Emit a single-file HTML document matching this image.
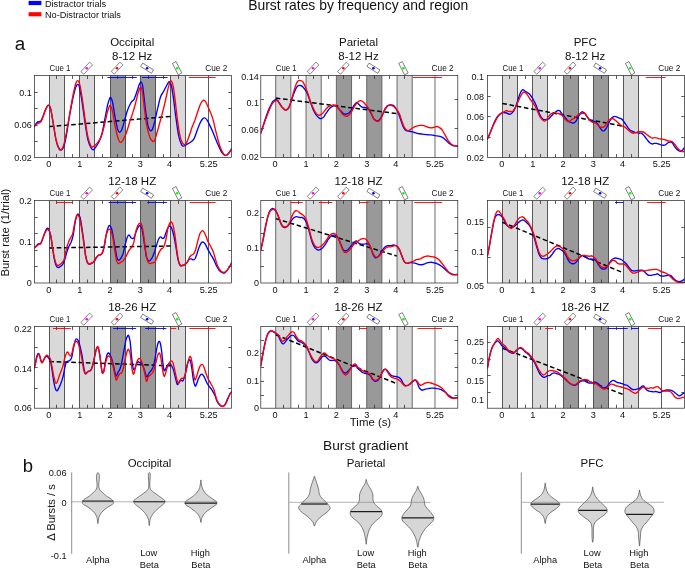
<!DOCTYPE html><html><head><meta charset="utf-8"><style>html,body{margin:0;padding:0;background:#fff;width:685px;height:568px;overflow:hidden}</style></head><body><svg width="685" height="568" viewBox="0 0 685 568" style="position:absolute;left:0;top:0;font-family:'Liberation Sans',sans-serif">
<rect width="685" height="568" fill="#fff"/>
<rect x="28.6" y="0.9" width="12.8" height="4.2" fill="#0000ff"/>
<rect x="28.6" y="12.2" width="12.8" height="4.1" fill="#ff0000"/>
<rect x="49.50" y="75.5" width="15.00" height="82.0" fill="#d9d9d9"/>
<rect x="79.50" y="75.5" width="15.00" height="82.0" fill="#d9d9d9"/>
<rect x="110.50" y="75.5" width="15.00" height="82.0" fill="#999999"/>
<rect x="140.50" y="75.5" width="15.00" height="82.0" fill="#999999"/>
<rect x="170.50" y="75.5" width="15.00" height="82.0" fill="#d9d9d9"/>
<line x1="49.5" x2="49.5" y1="75.5" y2="157.5" stroke="#3c3c3c" stroke-width="0.85"/>
<line x1="64.5" x2="64.5" y1="75.5" y2="157.5" stroke="#3c3c3c" stroke-width="0.85"/>
<line x1="79.5" x2="79.5" y1="75.5" y2="157.5" stroke="#3c3c3c" stroke-width="0.85"/>
<line x1="94.5" x2="94.5" y1="75.5" y2="157.5" stroke="#3c3c3c" stroke-width="0.85"/>
<line x1="110.5" x2="110.5" y1="75.5" y2="157.5" stroke="#3c3c3c" stroke-width="0.85"/>
<line x1="125.5" x2="125.5" y1="75.5" y2="157.5" stroke="#3c3c3c" stroke-width="0.85"/>
<line x1="140.5" x2="140.5" y1="75.5" y2="157.5" stroke="#3c3c3c" stroke-width="0.85"/>
<line x1="155.5" x2="155.5" y1="75.5" y2="157.5" stroke="#3c3c3c" stroke-width="0.85"/>
<line x1="170.5" x2="170.5" y1="75.5" y2="157.5" stroke="#3c3c3c" stroke-width="0.85"/>
<line x1="185.5" x2="185.5" y1="75.5" y2="157.5" stroke="#3c3c3c" stroke-width="0.85"/>
<line x1="208.5" x2="208.5" y1="75.5" y2="157.5" stroke="#3c3c3c" stroke-width="0.85"/>
<path d="M56.50 157.5v-3.5M56.50 75.5v3.5M72.50 157.5v-3.5M72.50 75.5v3.5M87.50 157.5v-3.5M87.50 75.5v3.5M102.50 157.5v-3.5M102.50 75.5v3.5M117.50 157.5v-3.5M117.50 75.5v3.5M132.50 157.5v-3.5M132.50 75.5v3.5M148.50 157.5v-3.5M148.50 75.5v3.5M163.50 157.5v-3.5M163.50 75.5v3.5M178.50 157.5v-3.5M178.50 75.5v3.5M34.5 92.5h3.2M231.5 92.5h-3.2M34.5 108.5h3.2M231.5 108.5h-3.2M34.5 125.5h3.2M231.5 125.5h-3.2M34.5 141.5h3.2M231.5 141.5h-3.2" stroke="#333" stroke-width="0.8" fill="none"/>
<line x1="49.4" y1="126.6" x2="170.7" y2="116.4" stroke="#000" stroke-width="1.5" stroke-dasharray="4.6 2.7"/>
<path d="M34.0 127.3C34.5 126.5 35.8 123.6 36.9 122.5C38.0 121.5 39.6 122.0 40.6 121.1C41.6 120.1 41.9 118.6 42.8 116.7C43.6 114.7 44.8 111.3 45.7 109.4C46.6 107.4 47.5 105.4 48.3 105.1C49.1 104.9 49.6 105.1 50.4 107.9C51.2 110.7 52.1 116.5 53.0 121.8C53.9 127.0 55.0 134.9 55.9 139.3C56.9 143.7 57.9 146.3 58.9 148.1C59.8 149.9 60.6 150.2 61.5 149.9C62.3 149.5 63.2 148.1 64.0 145.9C64.8 143.7 65.2 141.6 66.2 136.4C67.1 131.2 68.6 121.1 69.8 114.5C71.0 107.9 72.2 101.4 73.2 96.9C74.2 92.4 75.0 89.5 75.7 87.4C76.4 85.4 76.8 84.6 77.4 84.5C78.0 84.4 78.6 83.9 79.3 86.7C80.1 89.5 81.0 95.5 82.0 101.3C82.9 107.2 83.9 115.4 84.9 121.8C85.9 128.1 86.8 135.0 87.8 139.3C88.8 143.7 90.1 146.1 91.0 147.8C91.9 149.6 92.4 150.0 93.2 149.9C94.1 149.7 95.2 148.0 96.1 146.6C97.1 145.2 98.1 143.7 99.1 141.5C100.0 139.3 101.0 137.3 102.0 133.5C103.0 129.7 103.9 123.7 104.9 118.9C105.9 114.0 107.0 107.7 107.8 104.2C108.6 100.8 109.2 99.5 109.7 98.4C110.2 97.3 110.3 97.1 110.8 97.7C111.2 98.3 111.8 98.8 112.5 102.0C113.2 105.3 114.3 112.9 115.1 117.4C116.0 121.9 116.9 126.6 117.6 129.1C118.4 131.6 118.8 132.2 119.5 132.3C120.2 132.4 120.9 131.8 121.7 129.8C122.6 127.8 123.7 123.6 124.6 120.3C125.6 117.0 126.6 112.9 127.6 110.1C128.5 107.3 129.7 105.0 130.5 103.5C131.3 102.0 131.6 101.8 132.2 101.0C132.9 100.3 133.4 100.8 134.2 99.1C135.0 97.5 136.2 93.6 137.1 91.1C138.0 88.5 138.9 85.3 139.6 83.8C140.3 82.3 140.6 81.8 141.1 82.0C141.6 82.3 142.0 82.7 142.5 85.2C143.0 87.7 143.4 92.3 144.0 96.9C144.5 101.6 145.2 108.1 145.9 113.0C146.6 117.9 147.4 123.2 148.1 126.2C148.8 129.1 149.5 130.1 150.3 130.6C151.0 131.0 151.7 130.6 152.5 129.1C153.2 127.6 153.8 125.2 154.7 121.8C155.5 118.4 156.6 112.8 157.6 108.6C158.6 104.5 159.5 99.7 160.5 96.9C161.5 94.1 162.5 93.6 163.4 91.8C164.4 90.0 165.5 87.5 166.4 86.0C167.2 84.4 168.0 83.0 168.5 82.3C169.1 81.7 169.2 81.4 169.7 82.0C170.2 82.6 170.8 83.0 171.5 86.0C172.1 88.9 172.9 94.6 173.7 99.9C174.4 105.1 175.0 111.3 175.9 117.4C176.7 123.5 177.8 131.8 178.8 136.4C179.8 141.0 180.9 143.3 181.7 144.9C182.6 146.5 183.0 146.1 183.9 146.1C184.8 146.0 185.7 145.1 186.8 144.4C187.9 143.8 189.3 143.2 190.5 142.3C191.7 141.3 193.0 140.5 194.1 138.6C195.2 136.6 196.1 133.1 197.1 130.6C198.0 128.0 199.0 125.2 200.0 123.2C201.0 121.2 202.1 119.4 202.9 118.6C203.8 117.7 204.4 117.7 205.1 118.0C205.8 118.3 206.3 118.7 207.3 120.3C208.3 121.9 209.7 125.0 210.9 127.6C212.2 130.3 213.4 133.5 214.6 136.4C215.8 139.3 217.0 142.5 218.3 145.2C219.5 147.9 220.7 150.8 221.9 152.5C223.1 154.2 224.5 155.3 225.6 155.4C226.7 155.5 227.4 154.4 228.5 153.2C229.6 152.0 231.4 149.0 232.0 148.1" stroke="#0000ff" stroke-width="1.35" fill="none" stroke-linejoin="round" stroke-linecap="round" clip-path="url(#cp00)"/>
<path d="M34.0 126.5C34.5 126.0 35.8 124.7 36.9 124.0C38.0 123.2 39.6 123.2 40.6 122.1C41.6 121.0 41.9 119.5 42.8 117.4C43.6 115.3 44.8 111.4 45.7 109.4C46.6 107.4 47.5 105.7 48.3 105.4C49.1 105.2 49.6 105.2 50.4 107.9C51.2 110.6 52.1 116.5 53.0 121.8C53.9 127.0 55.0 134.8 55.9 139.3C56.9 143.8 58.0 147.1 58.9 148.8C59.7 150.6 60.0 150.2 60.8 149.9C61.5 149.5 62.5 148.6 63.2 146.6C64.0 144.6 64.5 142.7 65.4 137.9C66.4 133.0 67.9 124.2 69.1 117.4C70.3 110.6 71.6 102.5 72.7 96.9C73.8 91.3 74.9 86.5 75.7 83.8C76.5 81.0 76.9 80.6 77.6 80.6C78.2 80.6 78.8 80.8 79.6 83.8C80.4 86.7 81.3 92.3 82.2 98.4C83.2 104.5 84.2 113.7 85.2 120.3C86.1 126.9 87.1 133.5 88.1 137.9C89.1 142.2 90.3 144.8 91.0 146.3C91.7 147.9 91.7 147.2 92.5 146.9C93.2 146.7 94.4 145.8 95.4 144.9C96.4 144.0 97.4 142.9 98.3 141.5C99.3 140.1 100.3 139.0 101.3 136.4C102.2 133.8 103.2 130.1 104.2 126.2C105.2 122.3 106.2 116.3 107.1 113.0C108.0 109.7 108.8 107.7 109.3 106.4C109.8 105.2 109.8 105.1 110.3 105.7C110.8 106.3 111.4 106.7 112.2 110.1C113.0 113.5 114.2 121.4 115.1 126.2C116.1 130.9 117.2 135.9 118.1 138.6C118.9 141.3 119.5 141.9 120.3 142.3C121.0 142.6 121.5 142.3 122.5 140.8C123.4 139.3 124.9 136.6 126.1 133.5C127.3 130.3 128.8 124.8 129.8 121.8C130.7 118.7 131.1 117.9 132.0 115.2C132.8 112.5 133.9 109.2 134.9 105.7C135.9 102.2 137.0 97.0 137.8 94.0C138.7 91.0 139.5 89.0 140.0 87.9C140.6 86.8 140.7 86.6 141.1 87.4C141.5 88.2 142.0 89.0 142.5 92.5C143.1 96.1 143.7 103.3 144.4 108.6C145.1 114.0 145.8 120.1 146.6 124.7C147.5 129.3 148.6 133.7 149.5 136.4C150.5 139.1 151.6 140.5 152.5 141.1C153.3 141.7 153.8 141.8 154.7 140.1C155.5 138.3 156.5 134.3 157.6 130.6C158.7 126.8 160.0 122.0 161.2 117.4C162.5 112.8 163.8 107.4 164.9 102.8C166.0 98.1 167.0 93.0 167.8 89.6C168.7 86.2 169.4 83.7 170.0 82.3C170.6 80.9 170.9 80.5 171.5 81.1C172.0 81.7 172.6 82.8 173.2 86.0C173.8 89.1 174.4 94.4 175.1 99.9C175.8 105.3 176.6 113.3 177.3 118.9C178.1 124.5 178.8 129.7 179.5 133.5C180.2 137.3 181.0 139.7 181.7 141.5C182.4 143.3 183.2 144.1 183.9 144.4C184.6 144.8 185.2 145.1 186.1 143.7C186.9 142.4 188.0 139.1 189.0 136.4C190.0 133.7 191.0 130.3 191.9 127.6C192.9 125.0 193.9 123.0 194.9 120.3C195.8 117.6 196.8 114.4 197.8 111.5C198.8 108.7 199.7 105.4 200.7 103.5C201.7 101.6 202.8 100.4 203.6 100.1C204.5 99.9 205.0 100.6 205.8 102.0C206.7 103.5 207.7 106.1 208.8 108.6C209.9 111.2 211.3 114.0 212.4 117.4C213.5 120.8 214.4 125.2 215.3 129.1C216.3 133.0 217.3 137.4 218.3 140.8C219.2 144.2 220.2 147.2 221.2 149.6C222.2 151.9 223.3 153.7 224.1 154.7C225.0 155.7 225.6 155.5 226.3 155.4C227.0 155.3 227.5 155.0 228.5 153.9C229.4 152.9 231.4 149.7 232.0 148.8" stroke="#ff0000" stroke-width="1.35" fill="none" stroke-linejoin="round" stroke-linecap="round" clip-path="url(#cp00)"/>
<line x1="107.4" x2="136.8" y1="77.5" y2="77.5" stroke="#0000ff" stroke-width="0.9"/>
<line x1="141.9" x2="167.6" y1="77.5" y2="77.5" stroke="#0000ff" stroke-width="0.9"/>
<line x1="188.8" x2="215.7" y1="77.5" y2="77.5" stroke="#ff0000" stroke-width="0.9"/>
<clipPath id="cp00"><rect x="34.5" y="75.5" width="197.0" height="82.0"/></clipPath>
<rect x="34.5" y="75.5" width="197.0" height="82.0" fill="none" stroke="#222" stroke-width="0.7"/>
<g transform="translate(86.72 68.20) rotate(-47)"><rect x="-6.4" y="-2.0" width="12.8" height="4.0" fill="#fff" stroke="#333" stroke-width="0.55"/></g><circle cx="86.72" cy="68.20" r="1.3" fill="#ff00ff"/>
<g transform="translate(117.06 68.20) rotate(-47)"><rect x="-6.4" y="-2.0" width="12.8" height="4.0" fill="#fff" stroke="#333" stroke-width="0.55"/></g><circle cx="117.06" cy="68.20" r="1.3" fill="#ff0000"/>
<g transform="translate(147.09 68.20) rotate(32)"><rect x="-6.4" y="-2.0" width="12.8" height="4.0" fill="#fff" stroke="#333" stroke-width="0.55"/></g><circle cx="147.09" cy="68.20" r="1.3" fill="#0000ff"/>
<g transform="translate(177.13 68.20) rotate(63)"><rect x="-6.4" y="-2.0" width="12.8" height="4.0" fill="#fff" stroke="#333" stroke-width="0.55"/></g><circle cx="177.13" cy="68.20" r="1.3" fill="#00ff00"/>
<rect x="275.70" y="75.5" width="15.17" height="82.0" fill="#d9d9d9"/>
<rect x="306.04" y="75.5" width="15.17" height="82.0" fill="#d9d9d9"/>
<rect x="336.38" y="75.5" width="15.17" height="82.0" fill="#999999"/>
<rect x="366.72" y="75.5" width="15.17" height="82.0" fill="#999999"/>
<rect x="397.06" y="75.5" width="15.17" height="82.0" fill="#d9d9d9"/>
<line x1="275.70" x2="275.70" y1="75.5" y2="157.5" stroke="#5a5a5a" stroke-width="0.9"/>
<line x1="290.87" x2="290.87" y1="75.5" y2="157.5" stroke="#5a5a5a" stroke-width="0.9"/>
<line x1="306.04" x2="306.04" y1="75.5" y2="157.5" stroke="#5a5a5a" stroke-width="0.9"/>
<line x1="321.21" x2="321.21" y1="75.5" y2="157.5" stroke="#5a5a5a" stroke-width="0.9"/>
<line x1="336.38" x2="336.38" y1="75.5" y2="157.5" stroke="#5a5a5a" stroke-width="0.9"/>
<line x1="351.55" x2="351.55" y1="75.5" y2="157.5" stroke="#5a5a5a" stroke-width="0.9"/>
<line x1="366.72" x2="366.72" y1="75.5" y2="157.5" stroke="#5a5a5a" stroke-width="0.9"/>
<line x1="381.89" x2="381.89" y1="75.5" y2="157.5" stroke="#5a5a5a" stroke-width="0.9"/>
<line x1="397.06" x2="397.06" y1="75.5" y2="157.5" stroke="#5a5a5a" stroke-width="0.9"/>
<line x1="412.23" x2="412.23" y1="75.5" y2="157.5" stroke="#5a5a5a" stroke-width="0.9"/>
<line x1="434.99" x2="434.99" y1="75.5" y2="157.5" stroke="#5a5a5a" stroke-width="0.9"/>
<path d="M283.50 157.5v-3.5M283.50 75.5v3.5M298.50 157.5v-3.5M298.50 75.5v3.5M313.50 157.5v-3.5M313.50 75.5v3.5M328.50 157.5v-3.5M328.50 75.5v3.5M343.50 157.5v-3.5M343.50 75.5v3.5M359.50 157.5v-3.5M359.50 75.5v3.5M374.50 157.5v-3.5M374.50 75.5v3.5M389.50 157.5v-3.5M389.50 75.5v3.5M404.50 157.5v-3.5M404.50 75.5v3.5M260.8 99.5h3.2M457.8 99.5h-3.2M260.8 128.5h3.2M457.8 128.5h-3.2" stroke="#333" stroke-width="0.8" fill="none"/>
<line x1="275.8" y1="98.1" x2="397.5" y2="113.7" stroke="#000" stroke-width="1.5" stroke-dasharray="4.6 2.7"/>
<path d="M260.7 133.5C261.2 131.9 262.7 127.0 263.7 124.0C264.6 120.9 265.6 117.9 266.6 115.2C267.6 112.5 268.5 110.1 269.5 107.9C270.5 105.7 271.5 103.4 272.4 102.0C273.4 100.7 274.5 99.9 275.4 99.6C276.2 99.2 276.6 99.7 277.3 100.1C277.9 100.6 278.2 101.4 279.0 102.5C279.8 103.6 281.0 105.7 281.9 106.9C282.9 108.1 284.0 109.3 284.9 109.8C285.7 110.3 286.3 110.3 287.0 109.8C287.8 109.3 288.5 108.4 289.2 106.9C290.0 105.3 290.7 102.9 291.4 100.6C292.2 98.3 293.1 95.4 293.9 93.3C294.7 91.2 295.5 89.1 296.3 87.9C297.0 86.6 297.6 86.1 298.3 85.7C299.0 85.3 299.9 85.4 300.6 85.5C301.4 85.7 302.0 86.0 302.7 86.7C303.4 87.4 304.2 88.4 305.0 89.6C305.8 90.8 306.6 91.9 307.5 94.0C308.4 96.1 309.5 99.4 310.4 102.0C311.4 104.7 312.4 107.9 313.4 110.1C314.3 112.3 315.3 113.9 316.3 115.2C317.3 116.5 318.4 117.6 319.2 118.1C320.1 118.7 320.7 118.7 321.4 118.6C322.1 118.4 322.7 118.1 323.6 117.1C324.4 116.1 325.5 114.1 326.5 112.7C327.5 111.3 328.5 109.7 329.4 108.6C330.4 107.6 331.5 106.9 332.4 106.4C333.2 105.9 333.8 105.6 334.6 105.7C335.4 105.8 336.3 106.1 337.2 106.9C338.1 107.6 339.1 109.0 340.1 110.1C341.1 111.2 342.1 112.6 343.0 113.3C343.9 114.0 344.6 114.2 345.5 114.2C346.4 114.2 347.5 114.0 348.5 113.3C349.4 112.6 350.4 111.5 351.4 110.1C352.3 108.7 353.4 106.2 354.3 105.0C355.2 103.7 356.2 102.7 356.8 102.5C357.4 102.2 357.4 103.0 358.0 103.5C358.6 104.0 359.5 105.1 360.2 105.7C360.9 106.3 361.5 106.9 362.4 107.2C363.2 107.5 364.3 107.2 365.3 107.5C366.3 107.7 367.3 107.9 368.2 108.9C369.2 110.0 370.2 112.1 371.2 113.7C372.1 115.4 372.9 117.7 373.8 118.9C374.6 120.0 375.5 120.3 376.3 120.6C377.1 120.9 377.7 121.0 378.5 120.6C379.2 120.2 379.9 119.3 380.7 118.1C381.4 117.0 382.1 115.3 382.9 113.7C383.6 112.2 384.3 110.2 385.0 108.9C385.8 107.6 386.5 106.7 387.2 106.0C388.0 105.3 388.7 105.1 389.4 105.0C390.2 104.8 391.1 104.7 391.9 105.0C392.8 105.2 393.7 105.5 394.5 106.4C395.4 107.4 396.3 109.1 397.2 110.8C398.0 112.5 398.9 114.6 399.7 116.7C400.4 118.7 401.1 121.3 401.9 123.2C402.6 125.2 403.3 127.1 404.1 128.4C404.8 129.6 405.4 130.1 406.2 130.6C407.1 131.0 408.2 131.1 409.2 131.3C410.1 131.5 411.1 131.5 412.1 131.7C413.1 132.0 414.0 132.5 415.0 132.7C416.0 133.0 416.7 133.2 417.9 133.5C419.2 133.7 420.9 134.0 422.3 134.2C423.8 134.4 425.3 134.5 426.7 134.6C428.2 134.8 429.6 134.8 431.1 134.9C432.6 135.1 434.0 135.4 435.5 135.7C436.9 135.9 438.7 136.1 439.9 136.4C441.1 136.7 441.8 137.0 442.8 137.6C443.8 138.2 444.7 139.2 445.7 140.1C446.7 141.0 447.7 142.2 448.6 143.0C449.6 143.8 450.6 144.4 451.6 144.9C452.5 145.4 453.4 145.7 454.5 145.9C455.6 146.2 457.4 146.3 458.0 146.3" stroke="#0000ff" stroke-width="1.35" fill="none" stroke-linejoin="round" stroke-linecap="round" clip-path="url(#cp01)"/>
<path d="M260.7 132.7C261.2 131.4 262.7 127.4 263.7 124.7C264.6 122.0 265.6 119.2 266.6 116.7C267.6 114.1 268.5 111.5 269.5 109.4C270.5 107.2 271.5 104.9 272.4 103.5C273.4 102.1 274.5 101.5 275.4 101.0C276.2 100.5 276.6 100.3 277.3 100.6C277.9 100.9 278.2 101.7 279.0 102.8C279.8 103.9 281.0 106.0 281.9 107.2C282.9 108.3 284.0 109.4 284.9 109.8C285.7 110.2 286.3 109.9 287.0 109.4C287.8 108.8 288.5 108.0 289.2 106.4C290.0 104.8 290.7 102.4 291.4 99.9C292.2 97.3 293.1 93.8 293.9 91.1C294.7 88.4 295.5 85.5 296.3 83.8C297.0 82.1 297.6 81.4 298.3 80.8C299.0 80.3 299.9 80.4 300.6 80.6C301.4 80.7 302.0 80.7 302.7 81.6C303.4 82.5 304.2 84.1 305.0 86.0C305.8 87.8 306.6 90.0 307.5 92.5C308.4 95.1 309.5 98.6 310.4 101.3C311.4 104.0 312.4 106.6 313.4 108.6C314.3 110.7 315.4 112.6 316.3 113.7C317.1 114.8 317.7 115.0 318.5 115.2C319.2 115.4 319.9 115.1 320.7 114.8C321.4 114.4 322.0 113.9 322.9 113.0C323.7 112.1 324.8 110.5 325.8 109.4C326.8 108.3 327.7 107.1 328.7 106.4C329.7 105.8 330.7 105.5 331.6 105.3C332.6 105.0 333.4 104.8 334.3 105.0C335.1 105.2 335.9 105.6 336.8 106.4C337.7 107.3 338.7 108.8 339.7 110.1C340.7 111.4 341.6 113.2 342.6 114.2C343.6 115.2 344.7 115.9 345.5 116.2C346.4 116.5 346.9 116.4 347.7 115.9C348.6 115.4 349.7 114.6 350.6 113.3C351.6 112.0 352.6 109.5 353.6 107.9C354.5 106.3 355.8 104.5 356.5 103.5C357.2 102.5 357.4 102.5 358.0 102.0C358.6 101.6 359.5 100.7 360.2 100.6C360.9 100.5 361.5 100.7 362.4 101.3C363.2 101.9 364.3 103.1 365.3 104.2C366.3 105.3 367.3 106.4 368.2 107.9C369.2 109.4 370.2 111.2 371.2 113.0C372.1 114.8 372.9 117.5 373.8 118.9C374.6 120.2 375.5 120.6 376.3 121.1C377.1 121.5 377.7 121.9 378.5 121.5C379.2 121.1 379.9 120.1 380.7 118.9C381.4 117.6 382.1 115.8 382.9 114.2C383.6 112.6 384.3 110.6 385.0 109.4C385.8 108.1 386.5 107.1 387.2 106.4C388.0 105.8 388.7 105.5 389.4 105.4C390.2 105.3 391.1 105.4 391.9 105.7C392.8 106.0 393.7 106.4 394.5 107.2C395.4 107.9 396.3 108.9 397.2 110.1C398.0 111.3 398.9 112.6 399.7 114.5C400.4 116.3 401.1 119.0 401.9 121.1C402.6 123.1 403.3 125.4 404.1 126.9C404.8 128.4 405.5 129.2 406.2 129.8C407.0 130.4 407.7 130.6 408.4 130.6C409.2 130.5 409.8 129.9 410.6 129.4C411.5 128.8 412.6 127.9 413.6 127.3C414.5 126.8 415.5 126.5 416.5 126.2C417.5 125.9 418.4 125.6 419.4 125.4C420.4 125.3 421.4 125.3 422.3 125.4C423.3 125.6 424.3 125.9 425.3 126.2C426.2 126.5 427.2 127.0 428.2 127.3C429.2 127.6 430.1 127.9 431.1 127.9C432.1 127.9 433.0 127.6 434.0 127.3C435.0 127.1 436.1 126.5 436.9 126.5C437.8 126.5 438.3 126.8 439.1 127.3C440.0 127.9 441.1 128.6 442.1 129.8C443.0 131.1 444.0 133.2 445.0 134.9C446.0 136.6 446.9 138.6 447.9 140.1C448.9 141.5 449.9 142.8 450.8 143.7C451.8 144.6 452.6 145.2 453.8 145.6C455.0 146.0 457.3 145.9 458.0 145.9" stroke="#ff0000" stroke-width="1.35" fill="none" stroke-linejoin="round" stroke-linecap="round" clip-path="url(#cp01)"/>
<line x1="412.8" x2="442.1" y1="77.5" y2="77.5" stroke="#ff0000" stroke-width="0.9"/>
<clipPath id="cp01"><rect x="260.8" y="75.5" width="197.0" height="82.0"/></clipPath>
<rect x="260.8" y="75.5" width="197.0" height="82.0" fill="none" stroke="#222" stroke-width="0.7"/>
<g transform="translate(313.02 68.20) rotate(-47)"><rect x="-6.4" y="-2.0" width="12.8" height="4.0" fill="#fff" stroke="#333" stroke-width="0.55"/></g><circle cx="313.02" cy="68.20" r="1.3" fill="#ff00ff"/>
<g transform="translate(343.36 68.20) rotate(-47)"><rect x="-6.4" y="-2.0" width="12.8" height="4.0" fill="#fff" stroke="#333" stroke-width="0.55"/></g><circle cx="343.36" cy="68.20" r="1.3" fill="#ff0000"/>
<g transform="translate(373.39 68.20) rotate(32)"><rect x="-6.4" y="-2.0" width="12.8" height="4.0" fill="#fff" stroke="#333" stroke-width="0.55"/></g><circle cx="373.39" cy="68.20" r="1.3" fill="#0000ff"/>
<g transform="translate(403.43 68.20) rotate(63)"><rect x="-6.4" y="-2.0" width="12.8" height="4.0" fill="#fff" stroke="#333" stroke-width="0.55"/></g><circle cx="403.43" cy="68.20" r="1.3" fill="#00ff00"/>
<rect x="502.50" y="75.5" width="15.00" height="82.0" fill="#d9d9d9"/>
<rect x="532.50" y="75.5" width="15.00" height="82.0" fill="#d9d9d9"/>
<rect x="563.50" y="75.5" width="15.00" height="82.0" fill="#999999"/>
<rect x="593.50" y="75.5" width="15.00" height="82.0" fill="#999999"/>
<rect x="623.50" y="75.5" width="15.00" height="82.0" fill="#d9d9d9"/>
<line x1="502.5" x2="502.5" y1="75.5" y2="157.5" stroke="#3c3c3c" stroke-width="0.85"/>
<line x1="517.5" x2="517.5" y1="75.5" y2="157.5" stroke="#3c3c3c" stroke-width="0.85"/>
<line x1="532.5" x2="532.5" y1="75.5" y2="157.5" stroke="#3c3c3c" stroke-width="0.85"/>
<line x1="547.5" x2="547.5" y1="75.5" y2="157.5" stroke="#3c3c3c" stroke-width="0.85"/>
<line x1="563.5" x2="563.5" y1="75.5" y2="157.5" stroke="#3c3c3c" stroke-width="0.85"/>
<line x1="578.5" x2="578.5" y1="75.5" y2="157.5" stroke="#3c3c3c" stroke-width="0.85"/>
<line x1="593.5" x2="593.5" y1="75.5" y2="157.5" stroke="#3c3c3c" stroke-width="0.85"/>
<line x1="608.5" x2="608.5" y1="75.5" y2="157.5" stroke="#3c3c3c" stroke-width="0.85"/>
<line x1="623.5" x2="623.5" y1="75.5" y2="157.5" stroke="#3c3c3c" stroke-width="0.85"/>
<line x1="638.5" x2="638.5" y1="75.5" y2="157.5" stroke="#3c3c3c" stroke-width="0.85"/>
<line x1="661.5" x2="661.5" y1="75.5" y2="157.5" stroke="#3c3c3c" stroke-width="0.85"/>
<path d="M509.50 157.5v-3.5M509.50 75.5v3.5M525.50 157.5v-3.5M525.50 75.5v3.5M540.50 157.5v-3.5M540.50 75.5v3.5M555.50 157.5v-3.5M555.50 75.5v3.5M570.50 157.5v-3.5M570.50 75.5v3.5M585.50 157.5v-3.5M585.50 75.5v3.5M601.50 157.5v-3.5M601.50 75.5v3.5M616.50 157.5v-3.5M616.50 75.5v3.5M631.50 157.5v-3.5M631.50 75.5v3.5M487.5 96.5h3.2M684.5 96.5h-3.2M487.5 116.5h3.2M684.5 116.5h-3.2M487.5 137.5h3.2M684.5 137.5h-3.2" stroke="#333" stroke-width="0.8" fill="none"/>
<line x1="502.35" y1="103.5" x2="623.3" y2="126.2" stroke="#000" stroke-width="1.5" stroke-dasharray="4.6 2.7"/>
<path d="M487.4 139.3C487.7 138.6 488.5 136.9 489.2 135.2C489.9 133.6 490.7 131.3 491.4 129.4C492.1 127.5 492.8 125.7 493.6 124.0C494.3 122.3 495.0 120.6 495.8 119.3C496.5 118.0 497.2 116.9 498.0 115.9C498.7 115.0 499.4 114.3 500.2 113.7C500.9 113.2 501.6 112.9 502.4 112.7C503.1 112.5 503.8 112.7 504.5 112.7C505.3 112.8 506.0 112.8 506.7 113.0C507.5 113.3 508.2 114.1 508.9 114.2C509.7 114.3 510.4 114.2 511.1 113.7C511.9 113.3 512.6 112.6 513.3 111.5C514.0 110.5 514.8 109.0 515.5 107.2C516.2 105.3 517.0 102.8 517.7 100.6C518.4 98.4 519.2 95.7 519.9 94.0C520.6 92.3 521.2 91.0 521.8 90.4C522.4 89.7 523.0 89.7 523.5 89.9C524.1 90.1 524.7 91.0 525.3 91.4C525.9 91.8 526.5 91.8 527.2 92.3C527.9 92.7 528.7 93.2 529.4 94.0C530.1 94.8 530.9 95.8 531.6 96.9C532.3 98.0 533.1 99.2 533.8 100.6C534.5 101.9 535.2 103.3 536.0 105.0C536.7 106.7 537.4 109.0 538.2 110.8C538.9 112.6 539.6 114.6 540.4 115.9C541.1 117.3 541.8 118.3 542.6 118.9C543.3 119.5 544.0 119.5 544.7 119.6C545.5 119.7 546.2 119.8 546.9 119.6C547.7 119.4 548.4 119.2 549.1 118.6C549.9 118.0 550.6 116.7 551.3 115.9C552.1 115.1 552.8 114.4 553.5 113.7C554.3 113.1 555.0 112.4 555.7 111.8C556.4 111.3 557.2 110.7 557.9 110.5C558.6 110.4 559.2 110.4 559.8 110.8C560.4 111.3 560.9 112.5 561.6 113.3C562.2 114.2 563.0 115.1 563.8 115.9C564.5 116.8 565.2 117.7 565.9 118.6C566.7 119.4 567.4 120.5 568.1 121.1C568.9 121.6 569.6 121.8 570.3 122.1C571.1 122.4 571.8 122.9 572.5 123.0C573.3 123.0 574.1 123.0 574.7 122.5C575.4 122.1 575.9 121.3 576.5 120.3C577.1 119.3 577.7 117.8 578.4 116.7C579.0 115.5 579.7 114.1 580.3 113.3C580.9 112.5 581.4 111.9 582.0 111.8C582.6 111.7 583.3 112.4 583.8 112.7C584.3 113.0 584.4 113.0 585.0 113.7C585.6 114.5 586.5 116.1 587.2 117.1C587.9 118.1 588.7 118.9 589.4 119.6C590.1 120.2 590.8 120.7 591.6 121.1C592.3 121.4 593.0 121.3 593.8 121.5C594.5 121.7 595.2 121.5 596.0 122.1C596.7 122.6 597.4 123.7 598.2 124.7C598.9 125.8 599.7 127.4 600.4 128.4C601.0 129.3 601.6 130.2 602.3 130.6C602.9 130.9 603.6 130.9 604.3 130.6C605.0 130.2 605.5 129.5 606.2 128.4C606.9 127.3 607.7 125.4 608.4 124.0C609.1 122.5 609.9 120.7 610.6 119.6C611.3 118.4 612.0 117.6 612.8 117.1C613.5 116.6 614.2 116.4 615.0 116.4C615.7 116.4 616.4 116.8 617.2 117.1C617.9 117.4 618.6 117.8 619.4 118.1C620.1 118.4 620.8 118.3 621.5 118.9C622.3 119.4 623.0 120.5 623.7 121.5C624.5 122.5 625.2 123.6 625.9 124.7C626.7 125.8 627.4 127.0 628.1 127.9C628.9 128.8 629.6 129.7 630.3 130.3C631.1 130.8 631.8 130.9 632.5 131.3C633.2 131.6 634.0 132.1 634.7 132.3C635.4 132.6 636.2 132.6 636.9 132.7C637.6 132.9 638.4 133.1 639.1 133.2C639.8 133.3 640.6 132.9 641.3 133.2C642.0 133.5 642.7 134.2 643.5 134.9C644.2 135.7 644.9 136.9 645.7 137.9C646.4 138.8 647.1 139.9 647.9 140.8C648.6 141.6 649.3 142.4 650.1 143.0C650.8 143.5 651.5 143.9 652.3 144.0C653.0 144.1 653.7 143.5 654.4 143.4C655.2 143.3 655.9 143.3 656.6 143.4C657.4 143.5 658.1 143.8 658.8 144.0C659.6 144.2 660.3 144.7 661.0 144.9C661.8 145.1 662.5 145.2 663.2 145.2C663.9 145.2 664.7 145.2 665.4 144.9C666.1 144.5 666.9 143.5 667.6 143.0C668.3 142.5 669.1 142.0 669.8 142.0C670.5 141.9 671.3 141.9 672.0 142.5C672.7 143.2 673.5 144.9 674.2 145.9C674.9 147.0 675.6 148.0 676.4 148.8C677.1 149.6 677.8 150.3 678.6 150.7C679.3 151.1 680.1 151.5 680.8 151.3C681.4 151.2 682.1 150.4 682.7 149.9C683.3 149.3 684.1 148.1 684.4 147.8" stroke="#0000ff" stroke-width="1.35" fill="none" stroke-linejoin="round" stroke-linecap="round" clip-path="url(#cp02)"/>
<path d="M487.4 138.6C487.7 138.0 488.5 136.4 489.2 134.9C489.9 133.5 490.7 131.5 491.4 129.8C492.1 128.1 492.8 126.3 493.6 124.7C494.3 123.1 495.0 121.7 495.8 120.3C496.5 119.0 497.2 117.7 498.0 116.7C498.7 115.6 499.4 114.8 500.2 114.2C500.9 113.5 501.6 113.2 502.4 112.7C503.1 112.3 503.9 111.9 504.5 111.5C505.2 111.2 505.7 110.6 506.3 110.5C506.9 110.5 507.5 111.1 508.2 111.3C508.9 111.4 509.7 111.5 510.4 111.5C511.1 111.5 511.9 111.8 512.6 111.3C513.3 110.7 514.0 109.5 514.8 108.3C515.5 107.2 516.2 105.8 517.0 104.2C517.7 102.7 518.4 100.7 519.2 99.1C519.9 97.5 520.7 95.9 521.4 94.7C522.0 93.6 522.6 92.7 523.3 92.3C523.9 91.8 524.4 92.0 525.0 92.3C525.6 92.5 526.1 93.1 526.8 94.0C527.4 94.9 528.3 96.4 529.1 97.7C529.9 98.9 530.8 100.2 531.6 101.3C532.4 102.4 533.1 103.1 533.8 104.2C534.5 105.3 535.2 106.4 536.0 107.9C536.7 109.4 537.4 111.4 538.2 113.0C538.9 114.6 539.6 116.2 540.4 117.4C541.1 118.6 541.8 119.4 542.6 120.0C543.3 120.6 544.1 121.1 544.7 121.1C545.4 121.0 546.0 120.3 546.6 119.6C547.3 118.9 547.7 117.6 548.4 116.7C549.1 115.8 549.9 114.8 550.6 114.2C551.3 113.6 552.1 113.3 552.8 113.0C553.5 112.8 554.3 112.7 555.0 112.7C555.7 112.8 556.4 113.1 557.2 113.3C557.9 113.5 558.6 113.5 559.4 113.7C560.1 114.0 560.8 114.2 561.6 114.8C562.3 115.4 563.0 116.5 563.8 117.4C564.5 118.3 565.2 119.3 565.9 120.0C566.7 120.7 567.4 121.4 568.1 121.5C568.9 121.6 569.6 121.0 570.3 120.6C571.1 120.2 571.8 119.6 572.5 119.2C573.3 118.7 574.0 118.7 574.7 118.1C575.5 117.6 576.2 116.6 576.9 115.9C577.6 115.3 578.4 114.5 579.1 114.2C579.8 113.8 580.6 113.9 581.3 113.7C582.0 113.6 582.9 113.4 583.5 113.3C584.1 113.2 584.4 112.7 585.0 113.3C585.6 113.9 586.5 115.6 587.2 116.7C587.9 117.7 588.7 118.7 589.4 119.6C590.1 120.4 590.8 121.3 591.6 121.8C592.3 122.3 593.0 122.3 593.8 122.5C594.5 122.8 595.2 122.8 596.0 123.2C596.7 123.7 597.4 124.8 598.2 125.4C598.9 126.0 599.6 126.6 600.4 126.9C601.1 127.2 601.8 127.5 602.5 127.3C603.3 127.2 604.0 126.9 604.7 126.2C605.5 125.4 606.2 124.0 606.9 123.0C607.7 121.9 608.4 120.8 609.1 120.0C609.9 119.3 610.6 118.8 611.3 118.6C612.0 118.4 612.8 118.5 613.5 118.9C614.2 119.2 615.0 120.0 615.7 120.6C616.4 121.2 617.2 121.8 617.9 122.5C618.6 123.2 619.4 124.1 620.1 124.7C620.8 125.3 621.5 125.5 622.3 125.9C623.0 126.2 623.7 126.4 624.5 126.9C625.2 127.4 625.9 128.2 626.7 128.8C627.4 129.4 628.1 130.0 628.9 130.6C629.6 131.1 630.3 131.9 631.1 132.3C631.8 132.7 632.5 133.1 633.2 133.2C634.0 133.3 634.7 132.9 635.4 132.7C636.2 132.6 636.9 132.2 637.6 132.0C638.4 131.8 639.1 131.8 639.8 131.7C640.6 131.7 641.3 131.6 642.0 131.7C642.7 131.8 643.5 131.9 644.2 132.3C644.9 132.7 645.6 133.5 646.4 134.2C647.3 134.9 648.4 135.7 649.3 136.4C650.3 137.1 651.1 138.0 652.0 138.2C652.8 138.4 653.7 137.6 654.4 137.6C655.2 137.5 655.9 137.7 656.6 137.9C657.4 138.0 658.1 138.4 658.8 138.6C659.6 138.8 660.2 138.9 661.0 139.0C661.9 139.2 663.0 139.1 663.9 139.3C664.9 139.6 665.9 140.2 666.9 140.5C667.8 140.8 668.9 140.9 669.8 141.1C670.6 141.3 671.3 141.1 672.0 141.5C672.7 142.0 673.5 142.9 674.2 143.7C674.9 144.6 675.6 145.7 676.4 146.6C677.1 147.6 677.8 148.5 678.6 149.3C679.3 150.0 680.1 150.6 680.8 151.0C681.4 151.4 682.1 151.7 682.7 151.8C683.3 151.8 684.1 151.4 684.4 151.3" stroke="#ff0000" stroke-width="1.35" fill="none" stroke-linejoin="round" stroke-linecap="round" clip-path="url(#cp02)"/>
<line x1="645.7" x2="665.7" y1="77.5" y2="77.5" stroke="#ff0000" stroke-width="0.9"/>
<clipPath id="cp02"><rect x="487.5" y="75.5" width="197.0" height="82.0"/></clipPath>
<rect x="487.5" y="75.5" width="197.0" height="82.0" fill="none" stroke="#222" stroke-width="0.7"/>
<g transform="translate(539.72 68.20) rotate(-47)"><rect x="-6.4" y="-2.0" width="12.8" height="4.0" fill="#fff" stroke="#333" stroke-width="0.55"/></g><circle cx="539.72" cy="68.20" r="1.3" fill="#ff00ff"/>
<g transform="translate(570.06 68.20) rotate(-47)"><rect x="-6.4" y="-2.0" width="12.8" height="4.0" fill="#fff" stroke="#333" stroke-width="0.55"/></g><circle cx="570.06" cy="68.20" r="1.3" fill="#ff0000"/>
<g transform="translate(600.09 68.20) rotate(32)"><rect x="-6.4" y="-2.0" width="12.8" height="4.0" fill="#fff" stroke="#333" stroke-width="0.55"/></g><circle cx="600.09" cy="68.20" r="1.3" fill="#0000ff"/>
<g transform="translate(630.13 68.20) rotate(63)"><rect x="-6.4" y="-2.0" width="12.8" height="4.0" fill="#fff" stroke="#333" stroke-width="0.55"/></g><circle cx="630.13" cy="68.20" r="1.3" fill="#00ff00"/>
<rect x="49.50" y="200.5" width="15.00" height="82.5" fill="#d9d9d9"/>
<rect x="79.50" y="200.5" width="15.00" height="82.5" fill="#d9d9d9"/>
<rect x="110.50" y="200.5" width="15.00" height="82.5" fill="#999999"/>
<rect x="140.50" y="200.5" width="15.00" height="82.5" fill="#999999"/>
<rect x="170.50" y="200.5" width="15.00" height="82.5" fill="#d9d9d9"/>
<line x1="49.5" x2="49.5" y1="200.5" y2="283.0" stroke="#3c3c3c" stroke-width="0.85"/>
<line x1="64.5" x2="64.5" y1="200.5" y2="283.0" stroke="#3c3c3c" stroke-width="0.85"/>
<line x1="79.5" x2="79.5" y1="200.5" y2="283.0" stroke="#3c3c3c" stroke-width="0.85"/>
<line x1="94.5" x2="94.5" y1="200.5" y2="283.0" stroke="#3c3c3c" stroke-width="0.85"/>
<line x1="110.5" x2="110.5" y1="200.5" y2="283.0" stroke="#3c3c3c" stroke-width="0.85"/>
<line x1="125.5" x2="125.5" y1="200.5" y2="283.0" stroke="#3c3c3c" stroke-width="0.85"/>
<line x1="140.5" x2="140.5" y1="200.5" y2="283.0" stroke="#3c3c3c" stroke-width="0.85"/>
<line x1="155.5" x2="155.5" y1="200.5" y2="283.0" stroke="#3c3c3c" stroke-width="0.85"/>
<line x1="170.5" x2="170.5" y1="200.5" y2="283.0" stroke="#3c3c3c" stroke-width="0.85"/>
<line x1="185.5" x2="185.5" y1="200.5" y2="283.0" stroke="#3c3c3c" stroke-width="0.85"/>
<line x1="208.5" x2="208.5" y1="200.5" y2="283.0" stroke="#3c3c3c" stroke-width="0.85"/>
<path d="M56.50 283.0v-3.5M56.50 200.5v3.5M72.50 283.0v-3.5M72.50 200.5v3.5M87.50 283.0v-3.5M87.50 200.5v3.5M102.50 283.0v-3.5M102.50 200.5v3.5M117.50 283.0v-3.5M117.50 200.5v3.5M132.50 283.0v-3.5M132.50 200.5v3.5M148.50 283.0v-3.5M148.50 200.5v3.5M163.50 283.0v-3.5M163.50 200.5v3.5M178.50 283.0v-3.5M178.50 200.5v3.5M34.5 217.5h3.2M231.5 217.5h-3.2M34.5 233.5h3.2M231.5 233.5h-3.2M34.5 250.5h3.2M231.5 250.5h-3.2M34.5 266.5h3.2M231.5 266.5h-3.2" stroke="#333" stroke-width="0.8" fill="none"/>
<line x1="49.4" y1="247.95" x2="170.7" y2="246.05" stroke="#000" stroke-width="1.5" stroke-dasharray="4.6 2.7"/>
<path d="M34.0 247.5C34.4 247.3 35.5 246.7 36.2 246.1C36.9 245.4 37.7 244.3 38.4 243.9C39.1 243.4 39.8 244.5 40.6 243.6C41.3 242.6 42.0 240.2 42.8 238.3C43.5 236.4 44.2 233.8 45.0 232.2C45.7 230.5 46.5 228.6 47.2 228.2C47.8 227.8 48.3 228.4 48.9 229.7C49.5 230.9 50.2 232.6 50.8 235.8C51.4 239.0 52.1 245.0 52.7 249.0C53.3 253.0 53.9 257.1 54.5 259.9C55.1 262.7 55.6 264.5 56.2 265.8C56.8 267.1 57.4 267.4 58.1 267.5C58.8 267.7 59.6 267.0 60.3 266.5C61.0 266.0 61.8 265.6 62.5 264.6C63.2 263.6 63.8 262.5 64.4 260.7C65.1 258.8 65.7 255.8 66.5 253.4C67.2 250.9 68.3 248.0 69.1 246.1C69.9 244.1 70.6 243.5 71.3 241.7C72.0 239.8 72.5 238.4 73.2 235.1C73.8 231.8 74.6 225.3 75.2 221.9C75.9 218.6 76.5 216.3 77.0 215.1C77.5 213.8 77.8 213.9 78.3 214.3C78.8 214.7 79.4 215.2 80.1 217.5C80.7 219.9 81.3 224.2 82.0 228.5C82.6 232.8 83.4 238.5 84.0 243.1C84.6 247.8 85.1 253.0 85.8 256.3C86.4 259.6 87.0 261.6 87.7 262.9C88.3 264.2 88.8 264.0 89.6 264.0C90.3 264.1 91.3 263.6 92.0 263.2C92.8 262.7 93.5 262.3 94.2 261.4C95.0 260.5 95.7 258.8 96.4 257.7C97.2 256.7 97.9 255.8 98.6 255.3C99.4 254.7 100.1 255.1 100.8 254.5C101.5 254.0 102.1 253.6 102.7 251.9C103.3 250.2 103.9 247.6 104.5 244.6C105.1 241.5 105.7 236.5 106.4 233.6C107.0 230.7 107.7 228.4 108.3 227.0C108.8 225.7 109.2 225.3 109.7 225.6C110.3 225.8 110.9 226.7 111.5 228.5C112.1 230.3 112.6 233.3 113.2 236.5C113.8 239.8 114.5 244.7 115.1 248.2C115.8 251.8 116.5 255.8 117.0 257.7C117.6 259.7 117.9 260.1 118.5 260.2C119.1 260.4 119.8 259.9 120.5 258.8C121.3 257.6 122.4 255.8 123.2 253.4C124.0 250.9 124.6 246.7 125.4 243.9C126.1 241.1 126.9 238.0 127.6 236.5C128.2 235.1 128.7 234.8 129.3 235.1C129.9 235.3 130.5 237.5 131.2 238.0C132.0 238.5 133.0 238.9 133.8 238.0C134.5 237.2 135.0 234.6 135.7 232.9C136.3 231.2 137.2 229.0 137.8 227.8C138.5 226.6 139.1 225.8 139.6 225.6C140.1 225.3 140.3 225.3 140.8 226.3C141.3 227.3 141.9 228.5 142.5 231.4C143.1 234.4 143.8 239.7 144.4 243.9C145.1 248.0 145.7 253.5 146.3 256.3C147.0 259.1 147.7 260.0 148.4 260.7C149.0 261.3 149.6 260.8 150.3 260.2C151.0 259.6 151.7 258.5 152.5 257.0C153.2 255.5 153.9 253.4 154.7 251.2C155.4 249.0 156.1 246.0 156.9 243.9C157.6 241.7 158.4 239.5 159.0 238.3C159.7 237.1 159.9 236.8 160.5 236.8C161.1 236.8 161.8 238.2 162.4 238.3C163.0 238.5 163.5 238.9 164.2 237.7C164.8 236.6 165.7 233.2 166.4 231.4C167.0 229.7 167.7 227.9 168.3 227.0C168.8 226.1 169.2 225.9 169.7 226.0C170.3 226.1 170.8 226.3 171.5 227.8C172.1 229.3 172.9 231.9 173.7 235.1C174.4 238.3 175.1 242.6 175.9 246.8C176.6 250.9 177.3 256.8 178.1 259.9C178.8 263.1 179.5 264.6 180.2 265.5C181.0 266.4 181.7 265.6 182.4 265.5C183.2 265.4 183.8 265.2 184.6 264.6C185.4 264.1 186.5 263.0 187.3 262.1C188.0 261.2 188.7 259.7 189.3 259.2C190.0 258.7 190.5 258.8 191.2 258.9C191.9 259.0 192.7 260.0 193.4 259.9C194.1 259.9 194.5 259.6 195.2 258.5C195.8 257.4 196.4 255.3 197.1 253.4C197.7 251.4 198.5 248.6 199.3 246.8C200.0 245.0 200.8 243.5 201.4 242.7C202.1 241.9 202.7 241.9 203.3 242.1C204.0 242.3 204.3 242.6 205.1 243.9C205.9 245.1 207.0 247.9 208.0 249.7C209.0 251.5 210.0 253.1 210.9 254.8C211.9 256.5 212.9 258.0 213.9 259.9C214.8 261.9 215.8 264.7 216.8 266.5C217.8 268.3 218.7 269.9 219.7 270.9C220.7 272.0 221.8 272.5 222.6 272.8C223.5 273.1 224.1 273.2 224.8 272.8C225.6 272.4 226.5 271.3 227.3 270.2C228.2 269.0 229.2 267.1 230.0 265.8C230.7 264.4 231.7 262.7 232.0 262.1" stroke="#0000ff" stroke-width="1.35" fill="none" stroke-linejoin="round" stroke-linecap="round" clip-path="url(#cp10)"/>
<path d="M34.0 248.2C34.4 248.0 35.5 247.1 36.2 246.5C36.9 245.9 37.7 245.0 38.4 244.6C39.1 244.2 39.8 244.8 40.6 243.9C41.3 242.9 42.0 240.6 42.8 238.7C43.5 236.9 44.2 234.4 45.0 232.9C45.7 231.4 46.5 230.1 47.2 229.7C47.8 229.3 48.3 229.4 48.9 230.4C49.5 231.4 50.2 232.8 50.8 235.8C51.4 238.8 52.1 244.5 52.7 248.2C53.3 252.0 53.9 255.8 54.5 258.5C55.1 261.1 55.6 262.9 56.2 264.0C56.8 265.2 57.4 265.4 58.1 265.5C58.8 265.5 59.6 264.9 60.3 264.3C61.0 263.8 61.8 263.1 62.5 262.1C63.2 261.2 63.8 260.6 64.4 258.5C65.0 256.4 65.5 252.4 66.2 249.7C66.8 247.0 67.6 244.3 68.4 242.4C69.1 240.4 69.8 239.5 70.5 238.0C71.3 236.5 72.0 236.3 72.7 233.6C73.5 230.9 74.3 224.9 74.9 221.9C75.6 219.0 76.2 216.9 76.7 215.8C77.2 214.6 77.4 214.6 77.9 215.1C78.3 215.5 79.0 216.2 79.6 218.3C80.2 220.4 80.8 223.8 81.5 227.8C82.2 231.8 83.0 237.8 83.7 242.4C84.4 247.0 84.9 252.2 85.5 255.6C86.1 258.9 86.7 261.2 87.4 262.6C88.0 264.0 88.5 263.9 89.3 264.0C90.0 264.1 91.0 263.6 91.7 263.2C92.5 262.7 93.2 262.3 93.9 261.4C94.7 260.5 95.4 258.8 96.1 257.7C96.9 256.7 97.6 255.8 98.3 255.3C99.1 254.8 99.8 255.2 100.5 254.8C101.2 254.4 101.8 254.3 102.4 252.9C103.0 251.6 103.6 249.5 104.2 246.8C104.8 244.1 105.3 239.3 105.9 236.5C106.5 233.8 107.3 231.6 107.8 230.4C108.4 229.2 108.7 229.1 109.3 229.2C109.9 229.4 110.6 230.0 111.2 231.4C111.8 232.9 112.4 235.0 112.9 238.0C113.5 241.1 114.1 245.9 114.7 249.7C115.3 253.5 116.0 258.4 116.6 260.7C117.2 263.0 117.5 263.3 118.1 263.6C118.7 263.9 119.4 263.1 120.3 262.6C121.1 262.1 122.2 261.7 123.2 260.7C124.2 259.6 125.1 258.0 126.1 256.3C127.1 254.6 128.1 252.0 129.0 250.4C130.0 248.9 130.9 248.4 131.7 247.1C132.4 245.7 133.1 244.9 133.8 242.4C134.4 239.9 135.0 235.0 135.7 232.2C136.3 229.4 137.2 227.0 137.8 225.6C138.5 224.1 139.1 223.7 139.6 223.4C140.1 223.1 140.6 222.8 141.1 223.7C141.6 224.5 142.0 225.6 142.5 228.5C143.1 231.4 143.8 236.4 144.4 240.9C145.1 245.4 145.7 252.0 146.3 255.6C146.9 259.1 147.5 260.8 148.1 262.1C148.7 263.5 149.1 263.5 149.8 263.6C150.6 263.7 151.7 263.1 152.5 262.9C153.3 262.6 153.9 263.0 154.7 262.1C155.4 261.3 156.1 259.3 156.9 257.7C157.6 256.2 158.3 254.1 159.0 252.6C159.8 251.2 160.5 249.8 161.2 249.0C162.0 248.1 162.7 248.9 163.4 247.5C164.2 246.2 164.9 244.0 165.6 240.9C166.4 237.9 167.1 232.2 167.8 229.2C168.5 226.3 169.2 224.3 169.7 223.1C170.3 221.9 170.6 221.6 171.2 221.9C171.7 222.2 172.4 222.9 172.9 224.9C173.5 226.8 174.1 229.7 174.7 233.6C175.3 237.5 176.0 243.7 176.6 248.2C177.2 252.8 177.8 257.8 178.5 260.7C179.1 263.5 179.9 264.7 180.5 265.5C181.2 266.3 181.8 265.6 182.4 265.5C183.1 265.4 183.8 265.2 184.6 264.6C185.4 264.1 186.5 263.3 187.3 262.1C188.0 261.0 188.7 258.9 189.3 257.7C190.0 256.6 190.5 255.9 191.2 255.3C191.9 254.7 192.7 255.0 193.4 254.1C194.1 253.2 194.9 251.9 195.6 249.7C196.3 247.5 197.1 243.6 197.8 240.9C198.5 238.3 199.3 235.3 200.0 233.6C200.7 232.0 201.3 231.4 201.9 231.0C202.5 230.6 203.0 230.6 203.6 231.4C204.3 232.2 205.1 234.1 205.8 235.8C206.6 237.5 207.2 239.8 208.0 241.7C208.9 243.5 210.0 245.0 210.9 246.8C211.9 248.6 212.7 250.2 213.6 252.6C214.4 255.1 215.2 258.7 216.1 261.4C217.0 264.1 218.0 267.0 219.0 268.7C220.0 270.5 221.0 271.3 221.9 271.9C222.8 272.5 223.5 272.6 224.4 272.4C225.3 272.1 226.2 271.4 227.0 270.5C227.9 269.5 228.8 267.8 229.7 266.5C230.5 265.3 231.6 263.5 232.0 262.9" stroke="#ff0000" stroke-width="1.35" fill="none" stroke-linejoin="round" stroke-linecap="round" clip-path="url(#cp10)"/>
<line x1="56.7" x2="72.3" y1="202.5" y2="202.5" stroke="#ff0000" stroke-width="0.9"/>
<line x1="108.6" x2="136.1" y1="202.5" y2="202.5" stroke="#0000ff" stroke-width="0.9"/>
<line x1="147.4" x2="167.1" y1="202.5" y2="202.5" stroke="#0000ff" stroke-width="0.9"/>
<line x1="189.7" x2="215.6" y1="202.5" y2="202.5" stroke="#ff0000" stroke-width="0.9"/>
<clipPath id="cp10"><rect x="34.5" y="200.5" width="197.0" height="82.5"/></clipPath>
<rect x="34.5" y="200.5" width="197.0" height="82.5" fill="none" stroke="#222" stroke-width="0.7"/>
<g transform="translate(86.72 193.20) rotate(-47)"><rect x="-6.4" y="-2.0" width="12.8" height="4.0" fill="#fff" stroke="#333" stroke-width="0.55"/></g><circle cx="86.72" cy="193.20" r="1.3" fill="#ff00ff"/>
<g transform="translate(117.06 193.20) rotate(-47)"><rect x="-6.4" y="-2.0" width="12.8" height="4.0" fill="#fff" stroke="#333" stroke-width="0.55"/></g><circle cx="117.06" cy="193.20" r="1.3" fill="#ff0000"/>
<g transform="translate(147.09 193.20) rotate(32)"><rect x="-6.4" y="-2.0" width="12.8" height="4.0" fill="#fff" stroke="#333" stroke-width="0.55"/></g><circle cx="147.09" cy="193.20" r="1.3" fill="#0000ff"/>
<g transform="translate(177.13 193.20) rotate(63)"><rect x="-6.4" y="-2.0" width="12.8" height="4.0" fill="#fff" stroke="#333" stroke-width="0.55"/></g><circle cx="177.13" cy="193.20" r="1.3" fill="#00ff00"/>
<rect x="275.70" y="200.5" width="15.17" height="82.5" fill="#d9d9d9"/>
<rect x="306.04" y="200.5" width="15.17" height="82.5" fill="#d9d9d9"/>
<rect x="336.38" y="200.5" width="15.17" height="82.5" fill="#999999"/>
<rect x="366.72" y="200.5" width="15.17" height="82.5" fill="#999999"/>
<rect x="397.06" y="200.5" width="15.17" height="82.5" fill="#d9d9d9"/>
<line x1="275.70" x2="275.70" y1="200.5" y2="283.0" stroke="#5a5a5a" stroke-width="0.9"/>
<line x1="290.87" x2="290.87" y1="200.5" y2="283.0" stroke="#5a5a5a" stroke-width="0.9"/>
<line x1="306.04" x2="306.04" y1="200.5" y2="283.0" stroke="#5a5a5a" stroke-width="0.9"/>
<line x1="321.21" x2="321.21" y1="200.5" y2="283.0" stroke="#5a5a5a" stroke-width="0.9"/>
<line x1="336.38" x2="336.38" y1="200.5" y2="283.0" stroke="#5a5a5a" stroke-width="0.9"/>
<line x1="351.55" x2="351.55" y1="200.5" y2="283.0" stroke="#5a5a5a" stroke-width="0.9"/>
<line x1="366.72" x2="366.72" y1="200.5" y2="283.0" stroke="#5a5a5a" stroke-width="0.9"/>
<line x1="381.89" x2="381.89" y1="200.5" y2="283.0" stroke="#5a5a5a" stroke-width="0.9"/>
<line x1="397.06" x2="397.06" y1="200.5" y2="283.0" stroke="#5a5a5a" stroke-width="0.9"/>
<line x1="412.23" x2="412.23" y1="200.5" y2="283.0" stroke="#5a5a5a" stroke-width="0.9"/>
<line x1="434.99" x2="434.99" y1="200.5" y2="283.0" stroke="#5a5a5a" stroke-width="0.9"/>
<path d="M283.50 283.0v-3.5M283.50 200.5v3.5M298.50 283.0v-3.5M298.50 200.5v3.5M313.50 283.0v-3.5M313.50 200.5v3.5M328.50 283.0v-3.5M328.50 200.5v3.5M343.50 283.0v-3.5M343.50 200.5v3.5M359.50 283.0v-3.5M359.50 200.5v3.5M374.50 283.0v-3.5M374.50 200.5v3.5M389.50 283.0v-3.5M389.50 200.5v3.5M404.50 283.0v-3.5M404.50 200.5v3.5M260.8 217.5h3.2M457.8 217.5h-3.2M260.8 233.5h3.2M457.8 233.5h-3.2M260.8 250.5h3.2M457.8 250.5h-3.2M260.8 266.5h3.2M457.8 266.5h-3.2" stroke="#333" stroke-width="0.8" fill="none"/>
<line x1="275.8" y1="218.6" x2="396.7" y2="256.0" stroke="#000" stroke-width="1.5" stroke-dasharray="4.6 2.7"/>
<path d="M260.7 250.4C261.1 248.7 262.2 243.9 262.9 240.2C263.7 236.5 264.4 232.2 265.1 228.5C265.8 224.9 266.6 221.1 267.3 218.3C268.0 215.4 268.8 213.0 269.5 211.4C270.2 209.8 271.0 209.2 271.7 208.8C272.4 208.3 272.8 208.5 273.5 208.8C274.1 209.1 275.0 209.4 275.8 210.5C276.5 211.6 277.3 213.5 278.0 215.4C278.7 217.3 279.4 220.1 280.2 221.9C280.9 223.8 281.6 225.4 282.4 226.3C283.1 227.2 283.8 227.4 284.6 227.5C285.3 227.6 286.0 227.2 286.8 226.8C287.5 226.3 288.2 225.5 288.9 224.6C289.7 223.6 290.4 222.2 291.1 221.2C291.9 220.2 292.6 219.0 293.3 218.3C294.1 217.5 294.8 217.1 295.5 216.8C296.3 216.6 297.0 216.7 297.7 216.8C298.4 216.9 299.0 217.4 299.8 217.5C300.5 217.7 301.3 217.3 302.1 217.5C302.9 217.8 303.6 218.2 304.3 219.0C305.0 219.9 305.8 221.0 306.5 222.7C307.2 224.4 308.0 226.7 308.7 229.2C309.4 231.8 310.1 235.5 310.9 238.0C311.6 240.6 312.3 242.9 313.1 244.6C313.8 246.3 314.5 247.3 315.3 248.2C316.0 249.1 316.9 249.8 317.7 250.0C318.6 250.2 319.4 250.1 320.2 249.7C321.1 249.3 321.9 248.5 322.9 247.5C323.8 246.5 324.8 245.0 325.8 243.6C326.8 242.1 327.7 240.0 328.7 238.7C329.7 237.5 330.7 236.4 331.6 235.8C332.6 235.2 333.5 235.1 334.3 235.1C335.0 235.1 335.6 235.2 336.3 235.8C337.0 236.4 337.8 237.4 338.5 238.7C339.2 240.1 340.0 242.2 340.7 243.9C341.4 245.6 342.2 247.8 342.9 249.0C343.6 250.1 344.1 250.6 344.8 250.9C345.5 251.1 346.2 250.9 347.0 250.4C347.8 250.0 348.6 248.9 349.5 248.0C350.3 247.0 351.2 245.6 352.1 244.6C353.0 243.5 354.0 242.3 354.7 241.7C355.5 241.1 355.9 240.8 356.5 240.9C357.0 241.1 357.4 241.9 358.0 242.4C358.6 242.9 359.5 243.6 360.2 243.9C360.9 244.2 361.5 244.2 362.4 244.2C363.2 244.2 364.4 243.9 365.3 243.9C366.2 243.8 367.2 243.6 367.9 243.9C368.7 244.1 369.1 244.3 369.7 245.3C370.3 246.3 370.8 248.1 371.5 249.7C372.1 251.4 372.7 253.9 373.4 255.3C374.0 256.6 374.6 257.4 375.3 257.7C375.9 258.1 376.6 257.8 377.3 257.3C378.0 256.8 378.9 255.8 379.6 254.8C380.4 253.8 381.1 252.3 381.8 251.2C382.6 250.0 383.3 248.8 384.0 248.0C384.8 247.1 385.5 246.4 386.2 246.1C386.9 245.7 387.6 245.7 388.4 245.6C389.2 245.5 390.1 245.7 390.9 245.6C391.7 245.5 392.4 245.1 393.1 245.0C393.8 245.0 394.5 245.0 395.3 245.3C396.0 245.6 396.7 245.9 397.5 246.8C398.2 247.6 398.9 248.9 399.7 250.4C400.4 252.0 401.1 254.5 401.9 256.3C402.6 258.1 403.3 260.3 404.1 261.4C404.8 262.5 405.5 262.9 406.2 263.2C407.0 263.5 407.7 263.3 408.4 263.2C409.2 263.1 409.8 262.6 410.6 262.6C411.5 262.5 412.6 262.7 413.6 262.9C414.5 263.0 415.5 263.3 416.5 263.6C417.5 263.9 418.4 264.4 419.4 264.6C420.4 264.8 421.4 264.8 422.3 264.6C423.3 264.4 424.3 263.9 425.3 263.6C426.2 263.3 427.2 262.8 428.2 262.6C429.2 262.3 430.1 262.1 431.1 262.1C432.1 262.2 433.0 262.6 434.0 262.9C435.0 263.1 436.0 263.2 436.9 263.6C437.9 264.0 438.9 264.4 439.9 265.1C440.8 265.7 441.8 266.4 442.8 267.3C443.8 268.1 444.7 269.0 445.7 269.9C446.7 270.7 447.7 271.7 448.6 272.4C449.6 273.0 450.6 273.5 451.6 273.8C452.5 274.2 453.4 274.5 454.5 274.6C455.6 274.6 457.4 274.3 458.0 274.3" stroke="#0000ff" stroke-width="1.35" fill="none" stroke-linejoin="round" stroke-linecap="round" clip-path="url(#cp11)"/>
<path d="M260.7 250.4C261.1 248.9 262.2 244.5 262.9 240.9C263.7 237.4 264.4 232.9 265.1 229.2C265.8 225.6 266.6 221.8 267.3 219.0C268.0 216.2 268.8 213.9 269.5 212.4C270.2 210.9 271.0 210.4 271.7 209.9C272.4 209.5 273.2 209.3 273.9 209.5C274.6 209.7 275.4 210.3 276.1 211.4C276.8 212.5 277.5 214.3 278.3 216.1C279.0 217.8 279.7 220.3 280.5 221.9C281.2 223.6 281.9 225.2 282.7 226.0C283.4 226.9 284.1 227.0 284.9 227.0C285.6 227.1 286.3 226.9 287.0 226.3C287.8 225.7 288.5 224.9 289.2 223.4C290.0 221.9 290.7 219.3 291.4 217.5C292.2 215.8 292.9 214.0 293.6 212.9C294.4 211.7 295.1 211.0 295.8 210.7C296.5 210.4 297.1 210.6 297.7 211.0C298.4 211.3 299.0 212.3 299.8 212.9C300.5 213.5 301.6 214.0 302.4 214.6C303.2 215.3 303.9 215.7 304.6 216.8C305.3 217.9 306.1 219.2 306.8 221.2C307.5 223.1 308.2 225.8 309.0 228.5C309.7 231.2 310.4 234.8 311.2 237.3C311.9 239.7 312.6 241.6 313.4 243.1C314.1 244.7 314.8 245.8 315.6 246.5C316.3 247.2 317.0 247.5 317.7 247.5C318.5 247.6 319.4 247.3 320.2 246.8C321.1 246.3 321.9 245.6 322.9 244.6C323.8 243.6 324.8 242.3 325.8 240.9C326.8 239.6 327.7 237.7 328.7 236.5C329.7 235.4 330.8 234.5 331.6 233.9C332.5 233.4 333.1 233.3 333.8 233.3C334.6 233.4 335.3 233.6 336.0 234.4C336.8 235.1 337.5 236.4 338.2 238.0C338.9 239.6 339.7 241.9 340.4 243.9C341.1 245.8 341.9 248.3 342.6 249.7C343.3 251.1 343.8 251.9 344.5 252.3C345.2 252.8 345.8 252.7 346.5 252.3C347.3 252.0 348.3 251.4 349.2 250.4C350.1 249.5 351.1 248.0 352.1 246.8C353.1 245.6 354.1 244.0 355.0 243.1C356.0 242.2 356.8 242.0 357.7 241.4C358.5 240.8 359.4 239.9 360.2 239.5C361.0 239.0 361.7 238.9 362.4 238.7C363.1 238.6 363.8 238.5 364.6 238.7C365.3 239.0 366.0 239.4 366.8 240.2C367.5 241.0 368.2 242.1 369.0 243.6C369.7 245.0 370.4 247.2 371.2 249.0C371.9 250.7 372.6 252.8 373.4 254.1C374.1 255.4 374.8 256.2 375.5 256.7C376.3 257.2 377.0 257.3 377.7 257.0C378.5 256.8 379.2 256.0 379.9 255.3C380.7 254.5 381.4 253.3 382.1 252.3C382.9 251.4 383.6 250.2 384.3 249.4C385.0 248.6 385.8 248.0 386.5 247.5C387.2 247.1 388.0 246.9 388.7 246.8C389.4 246.7 390.2 246.9 390.9 246.8C391.6 246.7 392.4 246.2 393.1 246.1C393.8 245.9 394.5 245.5 395.3 245.6C396.0 245.7 396.7 245.8 397.5 246.5C398.2 247.2 398.9 248.2 399.7 249.7C400.4 251.2 401.1 253.7 401.9 255.6C402.6 257.5 403.3 259.8 404.1 261.1C404.8 262.4 405.5 262.9 406.2 263.2C407.0 263.5 407.7 263.0 408.4 262.9C409.2 262.7 409.8 262.4 410.6 262.1C411.5 261.8 412.6 261.5 413.6 261.1C414.5 260.7 415.5 260.0 416.5 259.6C417.5 259.3 418.4 259.5 419.4 259.2C420.4 258.9 421.4 258.2 422.3 257.7C423.3 257.3 424.3 256.6 425.3 256.3C426.2 256.0 427.2 255.9 428.2 256.0C429.2 256.0 430.1 256.4 431.1 256.6C432.1 256.7 433.0 256.7 434.0 257.0C435.0 257.3 436.0 257.6 436.9 258.2C437.9 258.8 438.9 259.6 439.9 260.7C440.8 261.7 441.8 263.0 442.8 264.3C443.8 265.6 444.7 267.2 445.7 268.4C446.7 269.7 447.7 271.0 448.6 271.9C449.6 272.9 450.6 273.8 451.6 274.3C452.5 274.8 453.4 274.8 454.5 274.9C455.6 274.9 457.4 274.6 458.0 274.6" stroke="#ff0000" stroke-width="1.35" fill="none" stroke-linejoin="round" stroke-linecap="round" clip-path="url(#cp11)"/>
<line x1="290.4" x2="302.7" y1="202.5" y2="202.5" stroke="#ff0000" stroke-width="0.9"/>
<line x1="318.8" x2="332.4" y1="202.5" y2="202.5" stroke="#ff0000" stroke-width="0.9"/>
<line x1="360.1" x2="368.5" y1="202.5" y2="202.5" stroke="#ff0000" stroke-width="0.9"/>
<line x1="414.3" x2="442.1" y1="202.5" y2="202.5" stroke="#ff0000" stroke-width="0.9"/>
<clipPath id="cp11"><rect x="260.8" y="200.5" width="197.0" height="82.5"/></clipPath>
<rect x="260.8" y="200.5" width="197.0" height="82.5" fill="none" stroke="#222" stroke-width="0.7"/>
<g transform="translate(313.02 193.20) rotate(-47)"><rect x="-6.4" y="-2.0" width="12.8" height="4.0" fill="#fff" stroke="#333" stroke-width="0.55"/></g><circle cx="313.02" cy="193.20" r="1.3" fill="#ff00ff"/>
<g transform="translate(343.36 193.20) rotate(-47)"><rect x="-6.4" y="-2.0" width="12.8" height="4.0" fill="#fff" stroke="#333" stroke-width="0.55"/></g><circle cx="343.36" cy="193.20" r="1.3" fill="#ff0000"/>
<g transform="translate(373.39 193.20) rotate(32)"><rect x="-6.4" y="-2.0" width="12.8" height="4.0" fill="#fff" stroke="#333" stroke-width="0.55"/></g><circle cx="373.39" cy="193.20" r="1.3" fill="#0000ff"/>
<g transform="translate(403.43 193.20) rotate(63)"><rect x="-6.4" y="-2.0" width="12.8" height="4.0" fill="#fff" stroke="#333" stroke-width="0.55"/></g><circle cx="403.43" cy="193.20" r="1.3" fill="#00ff00"/>
<rect x="502.50" y="200.5" width="15.00" height="82.5" fill="#d9d9d9"/>
<rect x="532.50" y="200.5" width="15.00" height="82.5" fill="#d9d9d9"/>
<rect x="563.50" y="200.5" width="15.00" height="82.5" fill="#999999"/>
<rect x="593.50" y="200.5" width="15.00" height="82.5" fill="#999999"/>
<rect x="623.50" y="200.5" width="15.00" height="82.5" fill="#d9d9d9"/>
<line x1="502.5" x2="502.5" y1="200.5" y2="283.0" stroke="#3c3c3c" stroke-width="0.85"/>
<line x1="517.5" x2="517.5" y1="200.5" y2="283.0" stroke="#3c3c3c" stroke-width="0.85"/>
<line x1="532.5" x2="532.5" y1="200.5" y2="283.0" stroke="#3c3c3c" stroke-width="0.85"/>
<line x1="547.5" x2="547.5" y1="200.5" y2="283.0" stroke="#3c3c3c" stroke-width="0.85"/>
<line x1="563.5" x2="563.5" y1="200.5" y2="283.0" stroke="#3c3c3c" stroke-width="0.85"/>
<line x1="578.5" x2="578.5" y1="200.5" y2="283.0" stroke="#3c3c3c" stroke-width="0.85"/>
<line x1="593.5" x2="593.5" y1="200.5" y2="283.0" stroke="#3c3c3c" stroke-width="0.85"/>
<line x1="608.5" x2="608.5" y1="200.5" y2="283.0" stroke="#3c3c3c" stroke-width="0.85"/>
<line x1="623.5" x2="623.5" y1="200.5" y2="283.0" stroke="#3c3c3c" stroke-width="0.85"/>
<line x1="638.5" x2="638.5" y1="200.5" y2="283.0" stroke="#3c3c3c" stroke-width="0.85"/>
<line x1="661.5" x2="661.5" y1="200.5" y2="283.0" stroke="#3c3c3c" stroke-width="0.85"/>
<path d="M509.50 283.0v-3.5M509.50 200.5v3.5M525.50 283.0v-3.5M525.50 200.5v3.5M540.50 283.0v-3.5M540.50 200.5v3.5M555.50 283.0v-3.5M555.50 200.5v3.5M570.50 283.0v-3.5M570.50 200.5v3.5M585.50 283.0v-3.5M585.50 200.5v3.5M601.50 283.0v-3.5M601.50 200.5v3.5M616.50 283.0v-3.5M616.50 200.5v3.5M631.50 283.0v-3.5M631.50 200.5v3.5M487.5 227.5h3.2M684.5 227.5h-3.2M487.5 257.5h3.2M684.5 257.5h-3.2" stroke="#333" stroke-width="0.8" fill="none"/>
<line x1="502.35" y1="222.2" x2="622.3" y2="272.4" stroke="#000" stroke-width="1.5" stroke-dasharray="4.6 2.7"/>
<path d="M487.4 255.6C487.7 254.1 488.6 250.1 489.2 246.8C489.8 243.5 490.4 239.5 491.1 235.8C491.8 232.2 492.5 227.9 493.1 224.9C493.8 221.8 494.4 219.2 495.0 217.5C495.7 215.9 496.3 215.4 496.9 214.9C497.6 214.4 498.1 214.5 498.7 214.6C499.3 214.7 499.8 214.9 500.5 215.4C501.1 215.8 501.7 216.3 502.4 217.3C503.0 218.2 503.8 219.9 504.5 221.2C505.3 222.5 506.0 224.2 506.7 225.1C507.5 226.1 508.2 226.7 508.9 227.0C509.7 227.4 510.4 227.5 511.1 227.5C511.8 227.5 512.4 227.4 513.0 227.0C513.7 226.7 514.3 226.2 515.1 225.6C515.8 225.0 516.7 224.0 517.4 223.4C518.1 222.7 518.7 222.2 519.5 221.6C520.2 221.1 521.1 220.4 521.8 220.2C522.5 219.9 522.9 219.9 523.5 220.2C524.2 220.4 525.0 221.1 525.7 221.6C526.5 222.2 527.2 222.9 527.9 223.7C528.7 224.5 529.4 225.3 530.1 226.6C530.9 227.9 531.6 229.4 532.3 231.4C533.1 233.5 533.8 236.2 534.5 238.7C535.2 241.3 536.0 244.2 536.7 246.8C537.4 249.3 538.2 252.3 538.9 254.1C539.6 255.9 540.4 257.0 541.1 257.7C541.8 258.5 542.6 258.6 543.3 258.8C544.0 258.9 544.7 258.8 545.5 258.8C546.2 258.7 546.9 258.8 547.7 258.5C548.4 258.2 549.1 257.7 549.9 257.0C550.6 256.3 551.3 255.4 552.1 254.4C552.8 253.4 553.5 252.1 554.3 251.2C555.0 250.3 555.7 249.4 556.4 249.0C557.2 248.5 557.9 248.4 558.6 248.5C559.4 248.7 560.1 249.3 560.8 249.7C561.6 250.1 562.3 250.4 563.0 251.2C563.8 251.9 564.5 252.9 565.2 254.1C565.9 255.3 566.7 257.1 567.4 258.5C568.1 259.8 568.9 261.3 569.6 262.1C570.3 263.0 571.1 263.4 571.8 263.6C572.5 263.8 573.3 263.8 574.0 263.6C574.7 263.4 575.5 262.9 576.2 262.1C576.9 261.4 577.6 260.2 578.4 259.2C579.1 258.2 579.9 256.9 580.6 256.3C581.2 255.6 581.7 255.3 582.3 255.3C582.9 255.3 583.4 255.8 584.2 256.3C585.0 256.8 586.3 257.7 587.2 258.2C588.1 258.7 588.7 259.0 589.4 259.2C590.1 259.4 590.8 259.2 591.6 259.2C592.3 259.2 593.0 259.0 593.8 259.2C594.5 259.5 595.2 259.8 596.0 260.7C596.7 261.5 597.4 263.2 598.2 264.3C598.9 265.5 599.6 266.8 600.4 267.5C601.1 268.3 601.8 268.8 602.5 269.0C603.3 269.2 604.0 269.3 604.7 269.0C605.5 268.7 606.2 268.2 606.9 267.3C607.7 266.3 608.4 264.8 609.1 263.6C609.9 262.4 610.6 261.1 611.3 260.2C612.0 259.4 612.8 258.8 613.5 258.5C614.2 258.1 615.0 258.0 615.7 258.0C616.4 258.0 617.2 258.3 617.9 258.5C618.6 258.7 619.4 258.9 620.1 259.2C620.8 259.5 621.5 259.7 622.3 260.2C623.0 260.7 623.7 261.5 624.5 262.1C625.2 262.8 625.9 263.5 626.7 264.3C627.4 265.2 628.1 266.3 628.9 267.3C629.6 268.2 630.3 269.3 631.1 269.9C631.8 270.5 632.5 270.7 633.2 270.9C634.0 271.1 634.7 271.0 635.4 270.9C636.2 270.8 636.9 270.6 637.6 270.5C638.4 270.3 639.1 270.2 639.8 270.2C640.6 270.1 641.3 270.0 642.0 270.2C642.7 270.4 643.5 270.7 644.2 271.3C644.9 272.0 645.7 273.2 646.4 273.8C647.1 274.5 647.9 275.0 648.6 275.3C649.3 275.5 650.1 275.4 650.8 275.3C651.5 275.2 652.3 275.0 653.0 274.9C653.7 274.7 654.4 274.7 655.2 274.6C655.9 274.4 656.6 273.7 657.4 273.8C658.1 274.0 658.8 274.9 659.6 275.3C660.3 275.7 661.0 275.9 661.8 276.0C662.5 276.1 663.2 276.1 663.9 276.0C664.7 276.0 665.4 275.9 666.1 275.7C666.9 275.6 667.6 275.4 668.3 275.3C669.1 275.2 669.8 274.9 670.5 275.3C671.3 275.7 672.0 276.8 672.7 277.5C673.5 278.2 674.2 279.1 674.9 279.7C675.6 280.3 676.4 280.8 677.1 281.1C677.8 281.5 678.6 281.6 679.3 281.6C680.0 281.6 680.8 281.4 681.5 281.1C682.1 280.9 682.7 280.5 683.2 280.1C683.8 279.8 684.7 279.1 685.0 278.9" stroke="#0000ff" stroke-width="1.35" fill="none" stroke-linejoin="round" stroke-linecap="round" clip-path="url(#cp12)"/>
<path d="M487.4 256.3C487.7 254.8 488.6 250.8 489.2 247.5C489.8 244.2 490.4 240.3 491.1 236.5C491.8 232.8 492.5 228.3 493.1 224.9C493.8 221.4 494.4 218.3 495.0 216.1C495.7 213.9 496.3 212.5 496.9 211.7C497.6 210.8 498.1 210.7 498.7 211.0C499.3 211.2 499.8 212.3 500.5 213.2C501.1 214.0 501.7 215.0 502.4 216.1C503.0 217.2 503.8 218.4 504.5 219.7C505.3 221.1 506.0 222.9 506.7 224.1C507.5 225.3 508.2 226.3 508.9 227.0C509.7 227.8 510.4 228.5 511.1 228.5C511.8 228.5 512.4 227.8 513.0 227.0C513.7 226.3 514.3 225.2 515.1 224.1C515.8 223.0 516.7 221.5 517.4 220.5C518.1 219.4 518.7 218.4 519.5 217.8C520.2 217.2 521.1 216.9 521.8 216.8C522.5 216.7 522.9 216.8 523.5 217.3C524.2 217.7 525.0 219.0 525.7 219.7C526.5 220.5 527.2 221.0 527.9 221.9C528.7 222.9 529.4 224.2 530.1 225.6C530.9 226.9 531.6 228.1 532.3 230.0C533.1 231.8 533.8 234.1 534.5 236.5C535.2 239.0 536.0 242.0 536.7 244.6C537.4 247.1 538.2 250.1 538.9 251.9C539.6 253.7 540.4 254.8 541.1 255.6C541.8 256.3 542.6 256.3 543.3 256.3C544.0 256.2 544.7 255.7 545.5 255.3C546.2 254.8 546.9 254.4 547.7 253.8C548.4 253.2 549.1 252.6 549.9 251.9C550.6 251.2 551.3 250.4 552.1 249.7C552.8 249.0 553.5 248.1 554.3 247.5C555.0 246.9 555.7 246.3 556.4 246.1C557.2 245.8 557.9 245.9 558.6 246.1C559.4 246.2 560.1 246.6 560.8 247.1C561.6 247.6 562.3 248.2 563.0 249.0C563.8 249.8 564.5 250.7 565.2 251.9C565.9 253.1 566.7 255.1 567.4 256.3C568.1 257.5 568.9 258.5 569.6 259.2C570.3 259.9 571.1 260.4 571.8 260.7C572.5 260.9 573.3 260.8 574.0 260.7C574.7 260.6 575.5 260.3 576.2 259.9C576.9 259.6 577.6 259.0 578.4 258.5C579.1 257.9 579.8 257.2 580.6 256.7C581.3 256.2 582.1 255.8 582.8 255.6C583.4 255.3 583.9 255.2 584.7 255.3C585.4 255.3 586.4 255.7 587.2 255.8C588.0 256.0 588.7 256.3 589.4 256.3C590.1 256.3 590.8 255.7 591.6 255.8C592.3 256.0 593.0 256.5 593.8 257.0C594.5 257.6 595.2 258.2 596.0 259.2C596.7 260.2 597.4 261.7 598.2 262.9C598.9 264.0 599.6 265.3 600.4 266.1C601.1 266.9 601.8 267.3 602.5 267.5C603.3 267.8 604.0 267.7 604.7 267.5C605.5 267.4 606.2 267.1 606.9 266.5C607.7 265.9 608.4 264.9 609.1 264.0C609.9 263.2 610.6 262.0 611.3 261.4C612.0 260.8 612.8 260.3 613.5 260.2C614.2 260.2 614.8 260.7 615.4 261.1C616.0 261.5 616.5 262.4 617.2 262.9C617.8 263.4 618.6 263.8 619.4 264.0C620.1 264.2 620.8 264.0 621.5 264.0C622.3 264.0 623.0 263.8 623.7 264.0C624.5 264.3 625.2 264.8 625.9 265.5C626.7 266.2 627.4 267.1 628.1 268.0C628.9 268.9 629.6 270.1 630.3 270.9C631.1 271.7 631.8 272.4 632.5 272.8C633.2 273.2 634.0 273.2 634.7 273.1C635.4 273.0 636.2 272.7 636.9 272.4C637.6 272.1 638.2 271.6 639.1 271.3C639.9 271.1 641.0 271.0 642.0 270.9C643.0 270.8 644.0 271.0 644.9 270.9C645.9 270.8 646.9 270.3 647.9 270.2C648.8 270.0 649.8 270.0 650.8 269.9C651.8 269.8 652.7 269.5 653.7 269.4C654.7 269.4 655.8 269.3 656.6 269.4C657.5 269.6 658.1 269.8 658.8 270.2C659.6 270.5 660.2 271.3 661.0 271.6C661.9 272.0 663.0 272.0 663.9 272.4C664.9 272.7 665.9 273.2 666.9 273.8C667.8 274.4 668.8 275.2 669.8 276.0C670.8 276.9 671.7 278.1 672.7 278.9C673.7 279.8 674.7 280.6 675.6 281.1C676.6 281.7 677.6 282.1 678.6 282.3C679.5 282.6 680.5 282.6 681.5 282.6C682.5 282.6 683.9 282.2 684.4 282.2" stroke="#ff0000" stroke-width="1.35" fill="none" stroke-linejoin="round" stroke-linecap="round" clip-path="url(#cp12)"/>
<line x1="615.0" x2="623.3" y1="202.5" y2="202.5" stroke="#0000ff" stroke-width="0.9"/>
<line x1="647.1" x2="665.7" y1="202.5" y2="202.5" stroke="#ff0000" stroke-width="0.9"/>
<clipPath id="cp12"><rect x="487.5" y="200.5" width="197.0" height="82.5"/></clipPath>
<rect x="487.5" y="200.5" width="197.0" height="82.5" fill="none" stroke="#222" stroke-width="0.7"/>
<g transform="translate(539.72 193.20) rotate(-47)"><rect x="-6.4" y="-2.0" width="12.8" height="4.0" fill="#fff" stroke="#333" stroke-width="0.55"/></g><circle cx="539.72" cy="193.20" r="1.3" fill="#ff00ff"/>
<g transform="translate(570.06 193.20) rotate(-47)"><rect x="-6.4" y="-2.0" width="12.8" height="4.0" fill="#fff" stroke="#333" stroke-width="0.55"/></g><circle cx="570.06" cy="193.20" r="1.3" fill="#ff0000"/>
<g transform="translate(600.09 193.20) rotate(32)"><rect x="-6.4" y="-2.0" width="12.8" height="4.0" fill="#fff" stroke="#333" stroke-width="0.55"/></g><circle cx="600.09" cy="193.20" r="1.3" fill="#0000ff"/>
<g transform="translate(630.13 193.20) rotate(63)"><rect x="-6.4" y="-2.0" width="12.8" height="4.0" fill="#fff" stroke="#333" stroke-width="0.55"/></g><circle cx="630.13" cy="193.20" r="1.3" fill="#00ff00"/>
<rect x="49.50" y="326.5" width="15.00" height="81.69999999999999" fill="#d9d9d9"/>
<rect x="79.50" y="326.5" width="15.00" height="81.69999999999999" fill="#d9d9d9"/>
<rect x="110.50" y="326.5" width="15.00" height="81.69999999999999" fill="#999999"/>
<rect x="140.50" y="326.5" width="15.00" height="81.69999999999999" fill="#999999"/>
<rect x="170.50" y="326.5" width="15.00" height="81.69999999999999" fill="#d9d9d9"/>
<line x1="49.5" x2="49.5" y1="326.5" y2="408.2" stroke="#3c3c3c" stroke-width="0.85"/>
<line x1="64.5" x2="64.5" y1="326.5" y2="408.2" stroke="#3c3c3c" stroke-width="0.85"/>
<line x1="79.5" x2="79.5" y1="326.5" y2="408.2" stroke="#3c3c3c" stroke-width="0.85"/>
<line x1="94.5" x2="94.5" y1="326.5" y2="408.2" stroke="#3c3c3c" stroke-width="0.85"/>
<line x1="110.5" x2="110.5" y1="326.5" y2="408.2" stroke="#3c3c3c" stroke-width="0.85"/>
<line x1="125.5" x2="125.5" y1="326.5" y2="408.2" stroke="#3c3c3c" stroke-width="0.85"/>
<line x1="140.5" x2="140.5" y1="326.5" y2="408.2" stroke="#3c3c3c" stroke-width="0.85"/>
<line x1="155.5" x2="155.5" y1="326.5" y2="408.2" stroke="#3c3c3c" stroke-width="0.85"/>
<line x1="170.5" x2="170.5" y1="326.5" y2="408.2" stroke="#3c3c3c" stroke-width="0.85"/>
<line x1="185.5" x2="185.5" y1="326.5" y2="408.2" stroke="#3c3c3c" stroke-width="0.85"/>
<line x1="208.5" x2="208.5" y1="326.5" y2="408.2" stroke="#3c3c3c" stroke-width="0.85"/>
<path d="M56.50 408.2v-3.5M56.50 326.5v3.5M72.50 408.2v-3.5M72.50 326.5v3.5M87.50 408.2v-3.5M87.50 326.5v3.5M102.50 408.2v-3.5M102.50 326.5v3.5M117.50 408.2v-3.5M117.50 326.5v3.5M132.50 408.2v-3.5M132.50 326.5v3.5M148.50 408.2v-3.5M148.50 326.5v3.5M163.50 408.2v-3.5M163.50 326.5v3.5M178.50 408.2v-3.5M178.50 326.5v3.5M34.5 347.5h3.2M231.5 347.5h-3.2M34.5 367.5h3.2M231.5 367.5h-3.2M34.5 388.5h3.2M231.5 388.5h-3.2" stroke="#333" stroke-width="0.8" fill="none"/>
<line x1="49.4" y1="361.5" x2="170.7" y2="365.8" stroke="#000" stroke-width="1.5" stroke-dasharray="4.6 2.7"/>
<path d="M34.0 368.4C34.2 367.4 35.0 364.6 35.5 362.5C35.9 360.5 36.4 357.5 36.9 356.0C37.4 354.5 37.9 353.6 38.4 353.5C38.8 353.4 39.1 354.0 39.6 355.2C40.0 356.5 40.6 359.6 41.0 360.8C41.4 362.0 41.6 362.6 42.0 362.5C42.5 362.5 42.9 361.3 43.5 360.4C44.1 359.4 44.8 357.7 45.4 357.0C46.0 356.3 46.3 355.8 46.9 356.0C47.4 356.2 48.0 357.3 48.6 358.2C49.2 359.0 49.8 359.4 50.4 361.1C50.9 362.8 51.3 365.5 51.8 368.4C52.3 371.3 52.8 375.6 53.3 378.6C53.8 381.7 54.3 384.7 54.8 386.7C55.2 388.6 55.8 389.7 56.2 390.3C56.7 391.0 56.9 391.1 57.4 390.6C57.9 390.1 58.5 388.7 59.1 387.4C59.8 386.1 60.4 384.7 61.0 383.0C61.7 381.3 62.3 379.6 62.9 377.2C63.6 374.7 64.2 370.8 64.7 368.4C65.2 366.0 65.6 363.8 66.2 362.5C66.7 361.3 67.3 361.5 67.9 361.1C68.5 360.7 69.2 361.0 69.8 360.4C70.5 359.7 71.1 359.5 71.7 357.4C72.3 355.4 72.9 350.7 73.5 347.9C74.1 345.1 74.7 342.1 75.2 340.6C75.8 339.1 76.2 338.9 76.7 338.9C77.2 338.9 77.6 339.4 78.2 340.6C78.7 341.9 79.4 344.0 80.1 346.5C80.7 348.9 81.3 351.8 82.0 355.2C82.6 358.7 83.2 363.9 83.7 366.9C84.2 370.0 84.7 372.5 85.2 373.5C85.7 374.5 86.1 373.4 86.6 373.1C87.2 372.7 87.7 371.7 88.4 371.3C89.0 370.9 89.9 371.4 90.6 370.6C91.3 369.7 91.9 368.2 92.5 366.2C93.1 364.3 93.6 361.5 94.2 358.9C94.8 356.3 95.5 352.5 96.0 350.6C96.5 348.6 96.8 347.6 97.2 347.2C97.5 346.8 97.9 346.6 98.3 347.9C98.8 349.3 99.3 352.1 99.8 355.2C100.3 358.4 100.8 364.0 101.3 366.9C101.7 369.9 102.0 372.5 102.4 373.1C102.9 373.7 103.4 372.5 103.9 370.6C104.4 368.7 104.8 364.5 105.3 361.8C105.9 359.1 106.6 356.0 107.1 354.5C107.6 353.0 108.0 352.9 108.6 353.0C109.1 353.2 109.7 354.0 110.3 355.2C110.9 356.5 111.6 358.2 112.2 360.4C112.8 362.5 113.6 366.0 114.1 368.4C114.7 370.8 115.2 373.8 115.6 375.0C116.0 376.2 116.2 376.2 116.6 375.7C117.0 375.2 117.5 373.1 118.1 372.1C118.6 371.0 119.4 370.7 120.0 369.1C120.6 367.5 121.1 365.6 121.7 362.5C122.4 359.5 123.2 354.5 123.9 350.9C124.6 347.2 125.2 343.1 125.8 340.6C126.4 338.1 127.1 336.7 127.6 335.9C128.1 335.2 128.3 334.9 128.7 335.9C129.2 337.0 129.7 338.4 130.2 342.1C130.7 345.8 131.2 353.8 131.7 358.2C132.2 362.5 132.7 366.6 133.2 368.4C133.7 370.2 134.1 369.9 134.6 369.1C135.2 368.4 135.8 365.2 136.4 364.0C137.0 362.8 137.6 362.1 138.1 361.8C138.7 361.6 139.0 362.3 139.6 362.5C140.2 362.8 140.9 362.5 141.5 363.3C142.1 364.0 142.8 365.4 143.4 366.9C144.0 368.5 144.6 371.1 145.2 372.8C145.7 374.4 146.3 376.8 146.9 376.9C147.5 377.0 148.1 374.6 148.8 373.5C149.5 372.5 150.3 371.7 151.0 370.6C151.7 369.5 152.5 369.0 153.2 366.9C153.9 364.9 154.5 361.3 155.1 358.2C155.7 355.0 156.3 350.6 156.9 347.9C157.4 345.3 157.8 343.4 158.3 342.4C158.8 341.4 159.3 340.9 159.8 341.8C160.3 342.7 160.8 344.7 161.2 347.9C161.7 351.1 162.2 357.3 162.7 361.1C163.2 364.9 163.6 369.4 164.2 370.6C164.7 371.8 165.3 369.4 165.9 368.4C166.5 367.4 167.2 365.5 167.8 364.7C168.5 364.0 169.1 363.9 169.7 364.0C170.3 364.1 170.8 364.4 171.5 365.5C172.1 366.6 173.0 368.4 173.7 370.6C174.3 372.8 175.0 376.3 175.6 378.6C176.2 380.9 176.7 383.9 177.3 384.5C177.9 385.1 178.5 383.0 179.1 382.3C179.7 381.6 180.3 380.6 181.0 380.4C181.6 380.1 182.2 381.6 182.9 380.8C183.5 380.0 184.3 378.1 184.9 375.7C185.6 373.3 186.2 368.7 186.8 366.2C187.5 363.7 188.2 361.8 188.7 360.8C189.3 359.8 189.7 359.3 190.2 360.4C190.7 361.4 191.1 363.6 191.6 366.9C192.2 370.2 192.8 376.9 193.4 380.1C194.0 383.3 194.6 385.3 195.2 385.9C195.7 386.6 196.1 385.0 196.6 383.7C197.2 382.5 197.9 380.1 198.5 378.6C199.2 377.2 199.8 375.7 200.4 375.0C201.0 374.2 201.5 373.9 202.2 374.2C202.8 374.6 203.6 375.8 204.4 377.2C205.1 378.5 205.8 380.8 206.6 382.3C207.3 383.7 207.9 384.7 208.8 385.9C209.6 387.2 210.7 388.1 211.7 389.6C212.7 391.1 213.7 392.9 214.6 394.7C215.5 396.5 216.1 399.0 216.8 400.6C217.5 402.1 218.2 403.3 219.0 404.2C219.8 405.1 220.7 405.9 221.5 406.1C222.3 406.4 223.1 406.2 223.8 405.7C224.5 405.1 225.2 404.1 225.9 402.8C226.6 401.4 227.3 399.2 228.1 397.6C228.8 396.1 229.6 394.2 230.2 393.3C230.9 392.3 231.7 392.0 232.0 391.8" stroke="#0000ff" stroke-width="1.35" fill="none" stroke-linejoin="round" stroke-linecap="round" clip-path="url(#cp20)"/>
<path d="M34.0 369.1C34.2 368.3 35.0 366.0 35.5 364.0C35.9 362.1 36.4 359.1 36.9 357.4C37.4 355.8 37.9 354.5 38.4 354.2C38.8 354.0 39.1 354.8 39.6 356.0C40.0 357.1 40.6 359.9 41.0 361.1C41.4 362.2 41.6 363.0 42.0 362.8C42.5 362.7 42.9 361.4 43.5 360.4C44.1 359.3 44.8 357.6 45.4 356.7C46.0 355.8 46.3 355.2 46.9 355.2C47.4 355.2 48.0 356.1 48.6 356.7C49.2 357.3 49.8 357.4 50.4 358.9C50.9 360.4 51.3 362.9 51.8 365.5C52.3 368.0 52.8 371.7 53.3 374.2C53.8 376.8 54.3 379.3 54.8 380.8C55.2 382.3 55.5 383.2 55.9 383.3C56.4 383.4 56.9 382.7 57.4 381.6C57.9 380.4 58.5 378.1 59.1 376.4C59.8 374.7 60.4 373.0 61.0 371.3C61.7 369.6 62.4 368.2 62.9 366.2C63.5 364.3 63.9 361.7 64.4 359.6C64.9 357.6 65.6 355.0 66.2 353.8C66.7 352.5 67.1 351.9 67.6 352.0C68.1 352.1 68.6 353.9 69.1 354.5C69.6 355.2 70.1 356.2 70.5 356.0C71.0 355.7 71.5 354.9 72.0 353.0C72.5 351.2 73.2 346.9 73.8 345.0C74.3 343.1 74.9 342.4 75.4 341.8C75.9 341.2 76.2 341.1 76.7 341.4C77.2 341.6 77.6 342.1 78.2 343.5C78.7 345.0 79.4 347.4 80.1 350.1C80.7 352.8 81.4 356.6 82.0 359.6C82.5 362.7 82.9 366.1 83.4 368.4C83.9 370.7 84.4 372.7 84.9 373.5C85.4 374.3 85.8 373.4 86.3 373.1C86.9 372.7 87.4 371.7 88.1 371.3C88.8 370.9 89.6 371.3 90.3 370.6C91.0 369.9 91.6 368.8 92.2 366.9C92.8 365.1 93.4 362.3 93.9 359.6C94.5 356.9 95.2 353.0 95.7 350.9C96.2 348.7 96.7 347.4 97.2 346.9C97.6 346.4 97.9 346.2 98.3 347.6C98.8 349.0 99.3 352.0 99.8 355.2C100.3 358.5 100.8 364.0 101.3 366.9C101.7 369.9 102.0 372.1 102.4 372.8C102.9 373.5 103.4 372.8 103.9 371.3C104.4 369.9 104.8 366.3 105.3 364.0C105.9 361.7 106.6 358.8 107.1 357.4C107.6 356.1 108.0 356.0 108.6 356.0C109.1 356.0 109.7 356.3 110.3 357.4C110.9 358.5 111.6 360.2 112.2 362.5C112.8 364.9 113.6 368.8 114.1 371.3C114.7 373.9 115.2 376.4 115.6 377.9C116.0 379.4 116.2 380.3 116.6 380.1C117.0 379.8 117.5 377.5 118.1 376.4C118.6 375.3 119.4 374.1 120.0 373.5C120.6 372.9 121.1 373.8 121.7 372.8C122.3 371.8 122.9 370.1 123.5 367.7C124.1 365.2 124.7 361.0 125.4 358.2C126.0 355.4 126.7 352.3 127.3 350.9C127.8 349.4 128.2 348.9 128.7 349.4C129.2 349.9 129.7 350.9 130.2 353.8C130.7 356.7 131.2 363.6 131.7 366.9C132.2 370.3 132.7 373.2 133.2 374.0C133.7 374.7 134.1 373.1 134.6 371.3C135.2 369.5 135.8 365.3 136.4 363.3C137.0 361.3 137.6 360.1 138.1 359.3C138.7 358.5 139.1 358.3 139.6 358.5C140.1 358.6 140.5 359.2 141.1 360.4C141.6 361.5 142.3 363.2 143.0 365.5C143.6 367.8 144.3 371.6 144.9 374.2C145.5 376.9 146.1 380.8 146.6 381.3C147.2 381.8 147.5 378.2 148.1 377.2C148.7 376.1 149.5 375.7 150.3 375.0C151.0 374.2 151.7 374.0 152.5 372.8C153.2 371.6 154.0 369.9 154.7 367.7C155.3 365.5 156.0 361.8 156.6 359.6C157.1 357.4 157.5 355.6 158.0 354.5C158.5 353.4 159.0 352.4 159.5 353.0C160.0 353.7 160.5 355.6 160.9 358.2C161.4 360.7 161.9 365.4 162.4 368.4C162.9 371.4 163.4 375.0 163.9 376.0C164.4 377.0 164.8 375.6 165.3 374.2C165.9 372.9 166.4 369.6 167.1 367.7C167.7 365.7 168.6 363.7 169.3 362.5C170.0 361.4 170.6 360.8 171.2 360.8C171.8 360.8 172.4 361.0 172.9 362.5C173.5 364.1 174.1 367.2 174.7 369.9C175.3 372.5 176.0 376.4 176.6 378.6C177.2 380.9 177.9 383.1 178.5 383.3C179.1 383.6 179.4 380.9 180.0 380.1C180.5 379.3 181.0 378.7 181.7 378.3C182.4 378.0 183.2 379.1 183.9 377.9C184.6 376.7 185.4 373.9 186.1 371.3C186.8 368.8 187.3 364.9 187.8 362.5C188.4 360.2 188.9 358.4 189.3 357.4C189.7 356.5 190.0 356.0 190.5 356.7C190.9 357.4 191.5 359.1 191.9 361.8C192.4 364.5 192.9 369.8 193.4 372.8C193.9 375.8 194.4 379.1 194.9 379.8C195.4 380.5 195.8 378.6 196.3 377.2C196.9 375.8 197.5 373.1 198.1 371.3C198.7 369.5 199.3 367.4 200.0 366.2C200.6 365.0 201.3 364.3 201.9 364.3C202.5 364.3 203.0 364.8 203.6 366.2C204.3 367.6 205.1 370.7 205.8 372.8C206.6 374.9 207.2 376.8 208.0 378.6C208.9 380.5 210.0 381.9 210.9 383.7C211.9 385.6 213.0 387.3 213.9 389.6C214.7 391.9 215.3 395.4 216.1 397.6C216.8 399.8 217.5 401.4 218.3 402.8C219.1 404.1 220.0 405.1 220.9 405.7C221.7 406.3 222.6 406.7 223.4 406.4C224.2 406.2 224.8 405.4 225.6 404.2C226.3 403.0 227.0 400.8 227.8 399.1C228.5 397.4 229.2 395.3 230.0 394.0C230.7 392.6 231.7 391.5 232.0 391.1" stroke="#ff0000" stroke-width="1.35" fill="none" stroke-linejoin="round" stroke-linecap="round" clip-path="url(#cp20)"/>
<line x1="53.0" x2="70.8" y1="328.5" y2="328.5" stroke="#ff0000" stroke-width="0.9"/>
<line x1="113.2" x2="136.1" y1="328.5" y2="328.5" stroke="#0000ff" stroke-width="0.9"/>
<line x1="145.2" x2="166.4" y1="328.5" y2="328.5" stroke="#0000ff" stroke-width="0.9"/>
<line x1="170" x2="176.2" y1="328.5" y2="328.5" stroke="#ff0000" stroke-width="0.9"/>
<line x1="189.3" x2="215.6" y1="328.5" y2="328.5" stroke="#ff0000" stroke-width="0.9"/>
<clipPath id="cp20"><rect x="34.5" y="326.5" width="197.0" height="81.69999999999999"/></clipPath>
<rect x="34.5" y="326.5" width="197.0" height="81.69999999999999" fill="none" stroke="#222" stroke-width="0.7"/>
<g transform="translate(86.72 319.20) rotate(-47)"><rect x="-6.4" y="-2.0" width="12.8" height="4.0" fill="#fff" stroke="#333" stroke-width="0.55"/></g><circle cx="86.72" cy="319.20" r="1.3" fill="#ff00ff"/>
<g transform="translate(117.06 319.20) rotate(-47)"><rect x="-6.4" y="-2.0" width="12.8" height="4.0" fill="#fff" stroke="#333" stroke-width="0.55"/></g><circle cx="117.06" cy="319.20" r="1.3" fill="#ff0000"/>
<g transform="translate(147.09 319.20) rotate(32)"><rect x="-6.4" y="-2.0" width="12.8" height="4.0" fill="#fff" stroke="#333" stroke-width="0.55"/></g><circle cx="147.09" cy="319.20" r="1.3" fill="#0000ff"/>
<g transform="translate(177.13 319.20) rotate(63)"><rect x="-6.4" y="-2.0" width="12.8" height="4.0" fill="#fff" stroke="#333" stroke-width="0.55"/></g><circle cx="177.13" cy="319.20" r="1.3" fill="#00ff00"/>
<rect x="275.70" y="326.5" width="15.17" height="81.69999999999999" fill="#d9d9d9"/>
<rect x="306.04" y="326.5" width="15.17" height="81.69999999999999" fill="#d9d9d9"/>
<rect x="336.38" y="326.5" width="15.17" height="81.69999999999999" fill="#999999"/>
<rect x="366.72" y="326.5" width="15.17" height="81.69999999999999" fill="#999999"/>
<rect x="397.06" y="326.5" width="15.17" height="81.69999999999999" fill="#d9d9d9"/>
<line x1="275.70" x2="275.70" y1="326.5" y2="408.2" stroke="#5a5a5a" stroke-width="0.9"/>
<line x1="290.87" x2="290.87" y1="326.5" y2="408.2" stroke="#5a5a5a" stroke-width="0.9"/>
<line x1="306.04" x2="306.04" y1="326.5" y2="408.2" stroke="#5a5a5a" stroke-width="0.9"/>
<line x1="321.21" x2="321.21" y1="326.5" y2="408.2" stroke="#5a5a5a" stroke-width="0.9"/>
<line x1="336.38" x2="336.38" y1="326.5" y2="408.2" stroke="#5a5a5a" stroke-width="0.9"/>
<line x1="351.55" x2="351.55" y1="326.5" y2="408.2" stroke="#5a5a5a" stroke-width="0.9"/>
<line x1="366.72" x2="366.72" y1="326.5" y2="408.2" stroke="#5a5a5a" stroke-width="0.9"/>
<line x1="381.89" x2="381.89" y1="326.5" y2="408.2" stroke="#5a5a5a" stroke-width="0.9"/>
<line x1="397.06" x2="397.06" y1="326.5" y2="408.2" stroke="#5a5a5a" stroke-width="0.9"/>
<line x1="412.23" x2="412.23" y1="326.5" y2="408.2" stroke="#5a5a5a" stroke-width="0.9"/>
<line x1="434.99" x2="434.99" y1="326.5" y2="408.2" stroke="#5a5a5a" stroke-width="0.9"/>
<path d="M283.50 408.2v-3.5M283.50 326.5v3.5M298.50 408.2v-3.5M298.50 326.5v3.5M313.50 408.2v-3.5M313.50 326.5v3.5M328.50 408.2v-3.5M328.50 326.5v3.5M343.50 408.2v-3.5M343.50 326.5v3.5M359.50 408.2v-3.5M359.50 326.5v3.5M374.50 408.2v-3.5M374.50 326.5v3.5M389.50 408.2v-3.5M389.50 326.5v3.5M404.50 408.2v-3.5M404.50 326.5v3.5M260.8 340.5h3.2M457.8 340.5h-3.2M260.8 353.5h3.2M457.8 353.5h-3.2M260.8 367.5h3.2M457.8 367.5h-3.2M260.8 381.5h3.2M457.8 381.5h-3.2M260.8 395.5h3.2M457.8 395.5h-3.2" stroke="#333" stroke-width="0.8" fill="none"/>
<line x1="275.8" y1="334.8" x2="396.3" y2="383.5" stroke="#000" stroke-width="1.5" stroke-dasharray="4.6 2.7"/>
<path d="M260.7 365.5C261.0 364.1 261.6 360.5 262.2 357.4C262.8 354.4 263.4 350.4 264.1 347.2C264.8 344.0 265.5 340.7 266.1 338.4C266.8 336.1 267.4 334.5 268.0 333.3C268.7 332.1 269.3 331.5 269.9 331.1C270.6 330.8 271.3 330.9 272.0 331.1C272.6 331.3 273.2 331.7 273.9 332.1C274.6 332.6 275.4 333.0 276.1 333.6C276.8 334.2 277.5 334.8 278.3 335.9C279.0 337.1 279.8 339.4 280.5 340.6C281.1 341.9 281.6 343.1 282.2 343.5C282.8 344.0 283.4 343.7 284.1 343.3C284.8 342.8 285.6 341.5 286.3 340.6C287.0 339.7 287.8 338.8 288.5 338.0C289.2 337.2 290.0 336.4 290.7 335.9C291.4 335.5 291.8 335.0 292.5 335.1C293.1 335.1 293.7 335.6 294.4 336.2C295.0 336.9 295.8 338.3 296.5 339.2C297.3 340.0 298.0 340.9 298.7 341.4C299.5 341.8 300.2 341.7 300.9 342.1C301.7 342.4 302.4 343.0 303.1 343.5C303.9 344.1 304.6 344.4 305.3 345.3C306.1 346.2 306.8 347.2 307.5 348.7C308.2 350.1 309.0 352.1 309.7 353.8C310.4 355.5 311.2 357.6 311.9 358.9C312.6 360.2 313.4 361.2 314.1 361.8C314.8 362.5 315.6 362.8 316.3 362.8C317.0 362.8 317.6 362.4 318.2 361.8C318.8 361.3 319.3 360.5 319.9 359.6C320.6 358.8 321.5 357.3 322.1 356.7C322.8 356.1 323.4 356.0 324.0 356.0C324.6 356.0 325.1 356.2 325.8 356.7C326.4 357.2 327.3 358.3 328.0 358.9C328.7 359.5 329.4 360.1 330.2 360.4C330.9 360.6 331.6 360.4 332.4 360.4C333.1 360.4 333.8 360.1 334.6 360.4C335.3 360.6 336.0 361.1 336.8 361.8C337.5 362.5 338.2 363.6 338.9 364.7C339.7 365.8 340.4 367.2 341.1 368.4C341.9 369.6 342.6 371.3 343.3 372.1C344.1 372.8 344.8 373.1 345.5 373.1C346.3 373.0 347.0 372.3 347.7 371.6C348.5 371.0 349.2 370.0 349.9 369.1C350.6 368.3 351.4 367.3 352.1 366.6C352.8 366.0 353.6 365.5 354.3 365.5C355.0 365.4 355.6 365.7 356.2 366.2C356.8 366.7 357.0 367.7 357.7 368.4C358.3 369.1 359.4 369.9 360.2 370.6C361.0 371.3 361.5 372.0 362.4 372.5C363.2 373.0 364.3 373.3 365.3 373.5C366.3 373.8 367.4 373.6 368.2 374.0C369.1 374.3 369.7 374.8 370.4 375.7C371.2 376.6 371.9 378.4 372.6 379.4C373.4 380.3 374.1 381.0 374.8 381.3C375.5 381.5 376.3 381.3 377.0 380.8C377.7 380.4 378.5 379.8 379.2 378.6C379.9 377.5 380.7 375.4 381.4 374.0C382.1 372.5 382.9 370.7 383.6 369.9C384.3 369.1 384.9 369.0 385.5 369.1C386.1 369.3 386.6 369.9 387.2 370.6C387.9 371.3 388.7 372.7 389.4 373.5C390.2 374.4 390.8 375.2 391.6 375.7C392.5 376.2 393.6 376.2 394.5 376.4C395.5 376.6 396.5 376.5 397.5 376.9C398.4 377.2 399.5 377.7 400.4 378.6C401.3 379.5 401.9 381.2 402.6 382.3C403.3 383.4 404.1 384.7 404.8 385.2C405.5 385.8 406.2 385.7 407.0 385.6C407.7 385.6 408.4 385.3 409.2 384.8C409.9 384.3 410.6 383.4 411.4 382.7C412.1 382.1 412.8 381.2 413.6 380.8C414.3 380.4 415.1 380.1 415.7 380.4C416.4 380.7 416.7 381.6 417.2 382.7C417.8 383.9 418.5 386.3 419.1 387.4C419.7 388.5 420.2 389.2 420.9 389.6C421.5 390.0 422.3 390.1 423.1 390.0C423.8 390.0 424.4 389.4 425.3 389.2C426.1 388.9 427.2 388.7 428.2 388.6C429.2 388.4 430.1 388.2 431.1 388.1C432.1 388.1 433.0 388.1 434.0 388.1C435.0 388.2 436.0 388.4 436.9 388.6C437.9 388.7 438.9 388.8 439.9 389.2C440.8 389.5 441.8 390.1 442.8 390.6C443.8 391.2 444.7 391.7 445.7 392.5C446.7 393.3 447.7 394.6 448.6 395.4C449.6 396.2 450.6 396.9 451.6 397.3C452.5 397.8 453.4 397.9 454.5 397.9C455.6 398.0 457.4 397.7 458.0 397.6" stroke="#0000ff" stroke-width="1.35" fill="none" stroke-linejoin="round" stroke-linecap="round" clip-path="url(#cp21)"/>
<path d="M260.7 366.2C261.0 364.9 261.6 361.2 262.2 358.2C262.8 355.1 263.4 351.1 264.1 347.9C264.8 344.8 265.5 341.5 266.1 339.2C266.8 336.8 267.4 335.3 268.0 334.0C268.7 332.8 269.3 332.1 269.9 331.6C270.6 331.0 271.3 330.8 272.0 330.8C272.6 330.9 273.2 331.4 273.9 331.8C274.6 332.3 275.4 332.8 276.1 333.3C276.8 333.8 277.5 333.9 278.3 334.8C279.0 335.6 279.8 337.3 280.5 338.4C281.1 339.5 281.6 341.0 282.2 341.4C282.8 341.7 283.4 341.2 284.1 340.6C284.8 340.0 285.6 338.6 286.3 337.7C287.0 336.8 287.8 335.9 288.5 335.1C289.2 334.2 290.0 333.2 290.7 332.6C291.4 332.0 291.8 331.5 292.5 331.6C293.1 331.6 293.7 332.1 294.4 333.0C295.0 333.9 295.8 335.8 296.5 337.0C297.3 338.1 298.0 339.3 298.7 339.9C299.5 340.5 300.2 340.3 300.9 340.6C301.7 341.0 302.4 341.5 303.1 342.1C303.9 342.7 304.6 343.3 305.3 344.3C306.1 345.2 306.8 346.5 307.5 347.9C308.2 349.4 309.0 351.5 309.7 353.0C310.4 354.6 311.2 356.1 311.9 357.4C312.6 358.7 313.4 360.1 314.1 360.8C314.8 361.5 315.6 361.9 316.3 361.8C317.0 361.7 317.6 361.1 318.2 360.4C318.8 359.6 319.3 358.4 319.9 357.4C320.6 356.5 321.5 355.2 322.1 354.5C322.8 353.8 323.4 353.2 324.0 353.0C324.6 352.9 325.1 353.3 325.8 353.8C326.4 354.3 327.3 355.4 328.0 356.0C328.7 356.6 329.4 357.1 330.2 357.4C330.9 357.8 331.6 357.8 332.4 358.2C333.1 358.5 333.8 358.8 334.6 359.3C335.3 359.8 336.0 360.3 336.8 361.1C337.5 361.9 338.2 363.0 338.9 364.3C339.7 365.6 340.4 367.7 341.1 369.1C341.9 370.6 342.6 372.1 343.3 373.1C344.1 374.1 344.8 374.9 345.5 375.0C346.3 375.0 347.0 374.4 347.7 373.5C348.5 372.7 349.2 371.1 349.9 369.9C350.6 368.6 351.4 367.2 352.1 366.2C352.8 365.2 353.6 364.3 354.3 364.0C355.0 363.8 355.6 364.2 356.2 364.7C356.8 365.3 357.0 366.6 357.7 367.2C358.3 367.9 359.4 368.1 360.2 368.7C361.0 369.3 361.5 370.0 362.4 370.6C363.2 371.2 364.3 371.7 365.3 372.1C366.3 372.4 367.4 372.3 368.2 372.8C369.1 373.3 369.7 374.0 370.4 375.0C371.2 376.0 371.9 377.7 372.6 378.6C373.4 379.5 374.1 380.2 374.8 380.4C375.5 380.6 376.3 380.2 377.0 379.8C377.7 379.4 378.5 378.8 379.2 377.9C379.9 377.0 380.7 375.5 381.4 374.2C382.1 373.0 382.9 371.4 383.6 370.6C384.3 369.7 384.9 369.0 385.5 369.1C386.1 369.3 386.6 370.3 387.2 371.3C387.9 372.3 388.7 374.0 389.4 375.0C390.2 376.0 390.8 376.6 391.6 377.2C392.5 377.7 393.6 378.0 394.5 378.3C395.5 378.7 396.5 378.9 397.5 379.4C398.4 379.8 399.5 380.5 400.4 381.3C401.3 382.0 401.9 383.0 402.6 383.7C403.3 384.5 404.1 385.6 404.8 385.9C405.5 386.3 406.2 385.9 407.0 385.6C407.7 385.4 408.4 385.0 409.2 384.5C409.9 383.9 410.6 383.0 411.4 382.3C412.1 381.6 412.8 380.8 413.6 380.4C414.3 380.0 415.1 379.7 415.7 379.8C416.4 379.9 416.7 380.5 417.2 381.3C417.8 382.0 418.5 383.5 419.1 384.2C419.7 384.8 420.2 385.2 420.9 385.2C421.5 385.2 422.3 384.6 423.1 384.2C423.8 383.8 424.4 383.3 425.3 383.0C426.1 382.7 427.2 382.3 428.2 382.3C429.2 382.3 430.1 382.7 431.1 383.0C432.1 383.3 433.0 383.8 434.0 384.2C435.0 384.6 436.0 384.8 436.9 385.2C437.9 385.6 438.9 386.1 439.9 386.7C440.8 387.3 441.8 387.9 442.8 388.9C443.8 389.8 444.7 391.3 445.7 392.5C446.7 393.7 447.7 395.2 448.6 396.2C449.6 397.1 450.6 397.7 451.6 398.1C452.5 398.4 453.4 398.4 454.5 398.4C455.6 398.3 457.4 397.8 458.0 397.6" stroke="#ff0000" stroke-width="1.35" fill="none" stroke-linejoin="round" stroke-linecap="round" clip-path="url(#cp21)"/>
<line x1="360.1" x2="366.8" y1="328.5" y2="328.5" stroke="#ff0000" stroke-width="0.9"/>
<line x1="417.6" x2="442.1" y1="328.5" y2="328.5" stroke="#ff0000" stroke-width="0.9"/>
<clipPath id="cp21"><rect x="260.8" y="326.5" width="197.0" height="81.69999999999999"/></clipPath>
<rect x="260.8" y="326.5" width="197.0" height="81.69999999999999" fill="none" stroke="#222" stroke-width="0.7"/>
<g transform="translate(313.02 319.20) rotate(-47)"><rect x="-6.4" y="-2.0" width="12.8" height="4.0" fill="#fff" stroke="#333" stroke-width="0.55"/></g><circle cx="313.02" cy="319.20" r="1.3" fill="#ff00ff"/>
<g transform="translate(343.36 319.20) rotate(-47)"><rect x="-6.4" y="-2.0" width="12.8" height="4.0" fill="#fff" stroke="#333" stroke-width="0.55"/></g><circle cx="343.36" cy="319.20" r="1.3" fill="#ff0000"/>
<g transform="translate(373.39 319.20) rotate(32)"><rect x="-6.4" y="-2.0" width="12.8" height="4.0" fill="#fff" stroke="#333" stroke-width="0.55"/></g><circle cx="373.39" cy="319.20" r="1.3" fill="#0000ff"/>
<g transform="translate(403.43 319.20) rotate(63)"><rect x="-6.4" y="-2.0" width="12.8" height="4.0" fill="#fff" stroke="#333" stroke-width="0.55"/></g><circle cx="403.43" cy="319.20" r="1.3" fill="#00ff00"/>
<rect x="502.50" y="326.5" width="15.00" height="81.69999999999999" fill="#d9d9d9"/>
<rect x="532.50" y="326.5" width="15.00" height="81.69999999999999" fill="#d9d9d9"/>
<rect x="563.50" y="326.5" width="15.00" height="81.69999999999999" fill="#999999"/>
<rect x="593.50" y="326.5" width="15.00" height="81.69999999999999" fill="#999999"/>
<rect x="623.50" y="326.5" width="15.00" height="81.69999999999999" fill="#d9d9d9"/>
<line x1="502.5" x2="502.5" y1="326.5" y2="408.2" stroke="#3c3c3c" stroke-width="0.85"/>
<line x1="517.5" x2="517.5" y1="326.5" y2="408.2" stroke="#3c3c3c" stroke-width="0.85"/>
<line x1="532.5" x2="532.5" y1="326.5" y2="408.2" stroke="#3c3c3c" stroke-width="0.85"/>
<line x1="547.5" x2="547.5" y1="326.5" y2="408.2" stroke="#3c3c3c" stroke-width="0.85"/>
<line x1="563.5" x2="563.5" y1="326.5" y2="408.2" stroke="#3c3c3c" stroke-width="0.85"/>
<line x1="578.5" x2="578.5" y1="326.5" y2="408.2" stroke="#3c3c3c" stroke-width="0.85"/>
<line x1="593.5" x2="593.5" y1="326.5" y2="408.2" stroke="#3c3c3c" stroke-width="0.85"/>
<line x1="608.5" x2="608.5" y1="326.5" y2="408.2" stroke="#3c3c3c" stroke-width="0.85"/>
<line x1="623.5" x2="623.5" y1="326.5" y2="408.2" stroke="#3c3c3c" stroke-width="0.85"/>
<line x1="638.5" x2="638.5" y1="326.5" y2="408.2" stroke="#3c3c3c" stroke-width="0.85"/>
<line x1="661.5" x2="661.5" y1="326.5" y2="408.2" stroke="#3c3c3c" stroke-width="0.85"/>
<path d="M509.50 408.2v-3.5M509.50 326.5v3.5M525.50 408.2v-3.5M525.50 326.5v3.5M540.50 408.2v-3.5M540.50 326.5v3.5M555.50 408.2v-3.5M555.50 326.5v3.5M570.50 408.2v-3.5M570.50 326.5v3.5M585.50 408.2v-3.5M585.50 326.5v3.5M601.50 408.2v-3.5M601.50 326.5v3.5M616.50 408.2v-3.5M616.50 326.5v3.5M631.50 408.2v-3.5M631.50 326.5v3.5M487.5 342.5h3.2M684.5 342.5h-3.2M487.5 359.5h3.2M684.5 359.5h-3.2M487.5 375.5h3.2M684.5 375.5h-3.2M487.5 392.5h3.2M684.5 392.5h-3.2" stroke="#333" stroke-width="0.8" fill="none"/>
<line x1="502.35" y1="348.2" x2="623.7" y2="394.7" stroke="#000" stroke-width="1.5" stroke-dasharray="4.6 2.7"/>
<path d="M487.4 368.4C487.7 367.1 488.3 362.8 488.8 360.4C489.2 357.9 489.7 355.6 490.2 353.5C490.8 351.4 491.4 349.2 492.1 347.6C492.8 346.0 493.7 344.8 494.3 343.8C495.0 342.9 495.5 342.3 496.1 341.8C496.7 341.3 497.4 340.8 498.0 340.9C498.5 341.0 498.9 341.7 499.4 342.4C500.0 343.1 500.7 344.3 501.3 345.0C501.9 345.7 502.4 346.0 503.1 346.5C503.7 347.0 504.5 347.2 505.3 347.9C506.0 348.6 506.7 349.8 507.5 350.6C508.2 351.3 508.9 351.9 509.7 352.3C510.4 352.8 511.2 353.0 511.9 353.2C512.5 353.3 513.0 353.5 513.6 353.2C514.2 352.9 514.8 352.2 515.5 351.6C516.2 351.0 517.0 350.0 517.7 349.4C518.4 348.8 519.2 348.3 519.9 348.2C520.6 348.1 521.2 348.3 521.8 348.7C522.4 349.0 522.9 349.5 523.5 350.1C524.2 350.7 525.0 351.7 525.7 352.3C526.5 353.0 527.2 353.4 527.9 354.1C528.7 354.8 529.4 355.5 530.1 356.4C530.9 357.3 531.6 358.3 532.3 359.3C533.1 360.4 533.8 361.2 534.5 362.5C535.2 363.9 536.0 365.6 536.7 367.2C537.4 368.8 538.2 370.7 538.9 372.1C539.6 373.4 540.4 374.6 541.1 375.4C541.8 376.3 542.6 376.9 543.3 377.2C544.0 377.4 544.7 377.1 545.5 376.9C546.2 376.6 546.9 376.0 547.7 375.7C548.4 375.5 549.1 375.8 549.9 375.4C550.6 375.0 551.3 374.0 552.1 373.5C552.8 373.1 553.5 372.8 554.3 372.8C555.0 372.8 555.7 373.3 556.4 373.5C557.2 373.8 557.9 373.9 558.6 374.2C559.4 374.6 560.1 374.9 560.8 375.4C561.6 375.9 562.3 376.6 563.0 377.2C563.8 377.8 564.5 378.2 565.2 378.9C565.9 379.6 566.7 380.5 567.4 381.3C568.1 382.0 568.9 382.8 569.6 383.3C570.3 383.8 571.1 384.2 571.8 384.5C572.5 384.8 573.3 385.2 574.0 385.2C574.7 385.3 575.5 385.1 576.2 384.8C576.9 384.4 577.6 383.6 578.4 383.0C579.1 382.4 579.8 381.6 580.6 381.3C581.3 380.9 582.1 380.9 582.8 380.8C583.4 380.8 583.9 380.6 584.7 380.8C585.4 381.1 586.4 381.9 587.2 382.3C588.0 382.7 588.7 382.9 589.4 383.0C590.1 383.1 590.8 383.1 591.6 383.0C592.3 382.9 593.0 382.4 593.8 382.3C594.5 382.2 595.2 382.0 596.0 382.3C596.7 382.5 597.4 383.1 598.2 383.7C598.9 384.4 599.6 385.3 600.4 385.9C601.1 386.6 601.8 387.0 602.5 387.4C603.3 387.8 604.0 388.3 604.7 388.1C605.5 388.0 606.2 387.4 606.9 386.7C607.7 385.9 608.4 384.7 609.1 383.7C609.9 382.8 610.6 381.8 611.3 381.3C612.0 380.7 612.8 380.3 613.5 380.4C614.2 380.4 615.0 381.2 615.7 381.6C616.4 381.9 617.2 382.5 617.9 382.7C618.6 383.0 619.4 382.8 620.1 383.0C620.8 383.2 621.5 383.5 622.3 383.7C623.0 384.0 623.7 384.5 624.5 384.8C625.2 385.0 625.9 384.9 626.7 385.2C627.4 385.5 628.1 386.1 628.9 386.7C629.6 387.2 630.3 388.1 631.1 388.6C631.8 389.1 632.5 389.4 633.2 389.6C634.0 389.8 634.7 389.7 635.4 389.6C636.2 389.5 636.9 389.1 637.6 388.9C638.4 388.6 639.1 388.6 639.8 388.1C640.6 387.7 641.4 386.6 642.0 386.2C642.6 385.9 642.9 385.6 643.5 385.9C644.0 386.3 644.6 387.4 645.2 388.1C645.8 388.9 646.5 389.8 647.1 390.3C647.8 390.8 648.6 390.9 649.3 391.1C650.1 391.3 650.8 391.4 651.5 391.5C652.3 391.6 653.0 391.8 653.7 391.8C654.4 391.8 655.2 391.4 655.9 391.5C656.6 391.5 657.4 391.9 658.1 392.1C658.8 392.3 659.6 392.7 660.3 392.5C661.0 392.3 661.8 391.4 662.5 391.1C663.2 390.7 663.9 390.5 664.7 390.3C665.4 390.2 666.1 390.1 666.9 390.0C667.6 390.0 668.3 390.0 669.1 390.0C669.8 390.1 670.5 390.1 671.3 390.3C672.0 390.6 672.7 391.0 673.5 391.5C674.2 392.0 674.9 392.7 675.6 393.3C676.4 393.8 677.2 394.6 677.8 395.0C678.5 395.4 679.1 395.9 679.7 395.9C680.3 395.8 680.9 395.2 681.5 394.7C682.1 394.3 682.7 393.5 683.2 393.3C683.8 393.0 684.7 393.0 685.0 393.0" stroke="#0000ff" stroke-width="1.35" fill="none" stroke-linejoin="round" stroke-linecap="round" clip-path="url(#cp22)"/>
<path d="M487.4 367.7C487.7 366.4 488.3 362.7 488.8 360.4C489.2 358.0 489.7 355.8 490.2 353.8C490.8 351.7 491.4 349.6 492.1 347.9C492.8 346.2 493.7 344.8 494.3 343.5C495.0 342.3 495.5 341.5 496.1 340.6C496.7 339.8 497.4 338.5 498.0 338.4C498.5 338.3 498.9 339.2 499.4 339.9C500.0 340.6 500.7 342.1 501.3 342.8C501.9 343.5 502.4 343.7 503.1 344.3C503.7 344.8 504.5 345.4 505.3 346.2C506.0 347.0 506.7 348.2 507.5 349.1C508.2 350.0 508.9 351.0 509.7 351.6C510.4 352.2 511.2 352.6 511.9 352.8C512.5 352.9 513.0 353.0 513.6 352.8C514.2 352.5 514.8 351.8 515.5 351.1C516.2 350.5 517.0 349.7 517.7 349.1C518.4 348.5 519.2 347.8 519.9 347.6C520.6 347.4 521.2 347.6 521.8 347.9C522.4 348.2 522.9 348.8 523.5 349.4C524.2 350.0 525.0 351.0 525.7 351.6C526.5 352.2 527.2 352.4 527.9 353.0C528.7 353.7 529.4 354.4 530.1 355.2C530.9 356.0 531.6 356.9 532.3 357.9C533.1 358.8 533.8 359.8 534.5 361.1C535.2 362.4 536.0 364.0 536.7 365.5C537.4 366.9 538.2 368.6 538.9 369.9C539.6 371.1 540.4 372.2 541.1 373.1C541.8 373.9 542.6 374.8 543.3 375.0C544.0 375.1 544.7 374.5 545.5 374.0C546.2 373.4 546.9 372.2 547.7 371.6C548.4 371.1 549.1 370.8 549.9 370.6C550.6 370.4 551.3 370.5 552.1 370.6C552.8 370.7 553.5 370.9 554.3 371.0C555.0 371.2 555.7 371.3 556.4 371.6C557.2 371.9 557.9 372.3 558.6 372.8C559.4 373.3 560.1 373.9 560.8 374.5C561.6 375.1 562.3 375.8 563.0 376.4C563.8 377.1 564.5 377.6 565.2 378.3C565.9 379.1 566.7 380.0 567.4 380.8C568.1 381.6 568.9 382.5 569.6 383.0C570.3 383.6 571.1 383.9 571.8 384.2C572.5 384.5 573.3 384.8 574.0 384.8C574.7 384.8 575.5 384.6 576.2 384.2C576.9 383.8 577.6 382.9 578.4 382.3C579.1 381.7 579.8 380.8 580.6 380.4C581.3 380.0 582.1 379.9 582.8 379.8C583.4 379.7 583.9 379.8 584.7 379.8C585.4 379.8 586.4 379.6 587.2 379.8C588.0 380.0 588.7 380.8 589.4 381.3C590.1 381.7 590.8 382.0 591.6 382.3C592.3 382.6 593.0 382.8 593.8 383.0C594.5 383.3 595.2 383.4 596.0 383.7C596.7 384.1 597.4 384.7 598.2 385.2C598.9 385.8 599.6 386.6 600.4 387.1C601.1 387.7 601.8 388.2 602.5 388.6C603.3 388.9 604.0 389.2 604.7 389.2C605.5 389.1 606.2 388.7 606.9 388.1C607.7 387.5 608.4 386.3 609.1 385.6C609.9 385.0 610.6 384.4 611.3 384.2C612.0 384.0 612.8 384.2 613.5 384.5C614.2 384.7 615.0 385.4 615.7 385.6C616.4 385.9 617.2 386.1 617.9 386.2C618.6 386.4 619.4 386.5 620.1 386.7C620.8 386.9 621.5 387.2 622.3 387.4C623.0 387.6 623.7 387.9 624.5 388.1C625.2 388.3 625.9 388.3 626.7 388.6C627.4 388.8 628.1 389.2 628.9 389.6C629.6 390.0 630.3 390.6 631.1 391.1C631.8 391.5 632.5 392.2 633.2 392.5C634.0 392.9 634.7 393.3 635.4 393.3C636.2 393.2 636.9 392.7 637.6 392.1C638.4 391.5 639.1 390.3 639.8 389.6C640.6 388.9 641.3 388.1 642.0 387.7C642.7 387.3 643.5 387.3 644.2 387.4C644.9 387.5 645.7 387.9 646.4 388.1C647.1 388.3 647.9 388.6 648.6 388.6C649.3 388.5 650.1 387.8 650.8 387.7C651.5 387.6 652.3 388.2 653.0 388.1C653.7 388.0 654.4 387.4 655.2 387.1C655.9 386.9 656.6 386.5 657.4 386.7C658.1 386.8 658.8 387.5 659.6 388.1C660.3 388.7 661.0 389.8 661.8 390.3C662.5 390.8 663.2 390.9 663.9 391.1C664.7 391.2 665.4 391.1 666.1 391.1C666.9 391.1 667.6 390.9 668.3 391.1C669.1 391.2 669.8 391.3 670.5 391.8C671.3 392.3 672.0 393.1 672.7 394.0C673.5 394.8 674.2 396.2 674.9 396.9C675.6 397.6 676.4 398.1 677.1 398.4C677.8 398.6 678.6 398.4 679.3 398.4C680.0 398.3 680.8 398.1 681.5 397.9C682.1 397.8 682.7 397.5 683.2 397.3C683.8 397.2 684.7 397.0 685.0 396.9" stroke="#ff0000" stroke-width="1.35" fill="none" stroke-linejoin="round" stroke-linecap="round" clip-path="url(#cp22)"/>
<line x1="545.2" x2="553.1" y1="328.5" y2="328.5" stroke="#ff0000" stroke-width="0.9"/>
<line x1="607.2" x2="627.7" y1="328.5" y2="328.5" stroke="#0000ff" stroke-width="0.9"/>
<line x1="631.5" x2="638.8" y1="328.5" y2="328.5" stroke="#0000ff" stroke-width="0.9"/>
<line x1="647.9" x2="661.0" y1="328.5" y2="328.5" stroke="#ff0000" stroke-width="0.9"/>
<clipPath id="cp22"><rect x="487.5" y="326.5" width="197.0" height="81.69999999999999"/></clipPath>
<rect x="487.5" y="326.5" width="197.0" height="81.69999999999999" fill="none" stroke="#222" stroke-width="0.7"/>
<g transform="translate(539.72 319.20) rotate(-47)"><rect x="-6.4" y="-2.0" width="12.8" height="4.0" fill="#fff" stroke="#333" stroke-width="0.55"/></g><circle cx="539.72" cy="319.20" r="1.3" fill="#ff00ff"/>
<g transform="translate(570.06 319.20) rotate(-47)"><rect x="-6.4" y="-2.0" width="12.8" height="4.0" fill="#fff" stroke="#333" stroke-width="0.55"/></g><circle cx="570.06" cy="319.20" r="1.3" fill="#ff0000"/>
<g transform="translate(600.09 319.20) rotate(32)"><rect x="-6.4" y="-2.0" width="12.8" height="4.0" fill="#fff" stroke="#333" stroke-width="0.55"/></g><circle cx="600.09" cy="319.20" r="1.3" fill="#0000ff"/>
<g transform="translate(630.13 319.20) rotate(63)"><rect x="-6.4" y="-2.0" width="12.8" height="4.0" fill="#fff" stroke="#333" stroke-width="0.55"/></g><circle cx="630.13" cy="319.20" r="1.3" fill="#00ff00"/>
<line x1="71.7" x2="71.7" y1="472.4" y2="553.7" stroke="#707070" stroke-width="0.8"/>
<path d="M97.9 472.7C98.0 472.8 98.6 473.0 98.8 473.4C99.0 473.9 99.2 474.4 99.3 475.2C99.4 475.9 99.4 476.8 99.3 477.9C99.3 479.0 99.2 480.5 99.0 481.7C98.9 482.9 98.7 484.1 98.7 485.2C98.7 486.2 98.8 487.1 99.0 487.9C99.3 488.7 99.6 489.4 100.1 490.2C100.7 490.9 101.3 491.4 102.4 492.4C103.5 493.4 105.1 495.0 106.6 496.2C108.2 497.3 110.5 498.4 111.6 499.4C112.8 500.4 113.3 501.1 113.4 501.9C113.5 502.7 113.4 503.5 112.4 504.4C111.4 505.3 109.0 506.3 107.4 507.4C105.8 508.5 104.1 509.9 102.9 511.1C101.6 512.4 100.6 513.6 99.9 514.9C99.2 516.1 99.0 517.2 98.6 518.6C98.3 520.1 98.1 523.6 97.9 523.6C97.7 523.6 97.5 520.1 97.2 518.6C96.8 517.2 96.6 516.1 95.9 514.9C95.2 513.6 94.2 512.4 92.9 511.1C91.7 509.9 90.0 508.5 88.4 507.4C86.8 506.3 84.4 505.3 83.4 504.4C82.4 503.5 82.3 502.7 82.4 501.9C82.5 501.1 83.0 500.4 84.2 499.4C85.3 498.4 87.6 497.3 89.2 496.2C90.7 495.0 92.3 493.4 93.4 492.4C94.5 491.4 95.1 490.9 95.7 490.2C96.2 489.4 96.5 488.7 96.8 487.9C97.0 487.1 97.1 486.2 97.1 485.2C97.1 484.1 96.9 482.9 96.8 481.7C96.6 480.5 96.5 479.0 96.5 477.9C96.4 476.8 96.4 475.9 96.5 475.2C96.6 474.4 96.8 473.9 97.0 473.4C97.2 473.0 97.8 472.8 97.9 472.7Z" fill="#d6d6d6" stroke="#333" stroke-width="0.6" stroke-linejoin="round"/>
<line x1="82.42" x2="113.38" y1="501.14" y2="501.14" stroke="#151515" stroke-width="1.2"/>
<path d="M149.3 472.4C149.4 472.6 150.0 472.8 150.2 473.4C150.3 474.1 150.3 475.3 150.3 476.4C150.3 477.5 150.1 478.8 150.0 479.9C150.0 481.0 149.8 481.7 149.8 482.9C149.8 484.1 149.7 486.0 149.9 487.2C150.1 488.3 150.4 488.9 150.9 489.7C151.4 490.4 151.7 490.8 152.8 491.7C153.9 492.5 155.8 493.8 157.3 494.9C158.8 496.0 160.5 497.2 161.8 498.1C163.0 499.1 164.2 500.0 164.8 500.6C165.3 501.3 165.3 501.5 165.0 502.1C164.7 502.8 164.2 503.6 163.0 504.6C161.9 505.7 159.5 507.3 158.0 508.6C156.5 510.0 155.2 511.3 154.0 512.6C152.9 514.0 152.0 515.3 151.3 516.6C150.6 518.0 150.3 519.1 149.9 520.6C149.6 522.1 149.5 525.6 149.3 525.6C149.1 525.6 149.0 522.1 148.7 520.6C148.3 519.1 148.0 518.0 147.3 516.6C146.6 515.3 145.7 514.0 144.6 512.6C143.4 511.3 142.1 510.0 140.6 508.6C139.1 507.3 136.7 505.7 135.6 504.6C134.4 503.6 133.9 502.8 133.6 502.1C133.3 501.5 133.3 501.3 133.8 500.6C134.4 500.0 135.6 499.1 136.8 498.1C138.1 497.2 139.8 496.0 141.3 494.9C142.8 493.8 144.7 492.5 145.8 491.7C146.9 490.8 147.2 490.4 147.7 489.7C148.2 488.9 148.5 488.3 148.7 487.2C148.9 486.0 148.8 484.1 148.8 482.9C148.8 481.7 148.6 481.0 148.6 479.9C148.5 478.8 148.3 477.5 148.3 476.4C148.3 475.3 148.3 474.1 148.4 473.4C148.6 472.8 149.2 472.6 149.3 472.4Z" fill="#d6d6d6" stroke="#333" stroke-width="0.6" stroke-linejoin="round"/>
<line x1="133.57" x2="165.03" y1="501.64" y2="501.64" stroke="#151515" stroke-width="1.2"/>
<path d="M200.9 479.9C201.0 480.5 201.2 482.4 201.4 483.7C201.6 484.9 201.7 486.2 202.1 487.4C202.6 488.7 203.1 489.9 203.9 491.2C204.7 492.4 205.8 493.7 207.1 494.9C208.5 496.2 210.7 497.6 212.1 498.6C213.6 499.7 215.1 500.4 215.9 501.1C216.7 501.9 216.9 502.3 216.9 502.9C216.9 503.5 216.8 504.1 215.9 504.9C215.0 505.7 212.8 506.8 211.4 507.9C209.9 508.9 208.5 510.0 207.1 511.1C205.8 512.3 204.3 513.6 203.4 514.9C202.5 516.1 202.1 517.4 201.6 518.6C201.2 519.9 201.1 522.4 200.9 522.4C200.7 522.4 200.6 519.9 200.2 518.6C199.7 517.4 199.3 516.1 198.4 514.9C197.5 513.6 196.0 512.3 194.7 511.1C193.3 510.0 191.9 508.9 190.4 507.9C189.0 506.8 186.8 505.7 185.9 504.9C185.0 504.1 184.9 503.5 184.9 502.9C184.9 502.3 185.1 501.9 185.9 501.1C186.7 500.4 188.2 499.7 189.7 498.6C191.1 497.6 193.3 496.2 194.7 494.9C196.0 493.7 197.1 492.4 197.9 491.2C198.7 489.9 199.2 488.7 199.7 487.4C200.1 486.2 200.2 484.9 200.4 483.7C200.6 482.4 200.8 480.5 200.9 479.9Z" fill="#d6d6d6" stroke="#333" stroke-width="0.6" stroke-linejoin="round"/>
<line x1="184.92" x2="216.88" y1="503.14" y2="503.14" stroke="#151515" stroke-width="1.2"/>
<line x1="71.9" x2="217.2" y1="501.79999999999995" y2="501.79999999999995" stroke="#808080" stroke-width="0.6"/>
<line x1="288.8" x2="288.8" y1="472.4" y2="553.7" stroke="#707070" stroke-width="0.8"/>
<path d="M314.4 476.2C314.6 476.6 315.0 477.9 315.3 478.9C315.7 480.0 316.1 481.3 316.5 482.4C316.9 483.6 317.3 484.8 317.7 485.9C318.0 487.1 318.4 488.2 318.6 489.4C318.8 490.6 318.8 491.7 319.1 492.9C319.4 494.1 319.8 495.3 320.5 496.4C321.2 497.5 322.4 498.7 323.3 499.6C324.2 500.6 325.4 501.2 326.1 501.9C326.8 502.6 326.9 503.3 327.5 504.0C328.0 504.7 328.9 505.3 329.4 505.9C329.8 506.5 330.1 507.1 330.1 507.8C330.1 508.4 330.0 509.0 329.4 509.9C328.7 510.7 327.4 511.8 326.1 512.9C324.8 514.0 322.8 515.2 321.4 516.4C320.0 517.5 318.6 518.8 317.7 519.9C316.7 520.9 316.1 521.8 315.6 522.9C315.0 523.9 314.8 526.1 314.4 526.1C314.0 526.1 313.8 523.9 313.2 522.9C312.7 521.8 312.1 520.9 311.1 519.9C310.2 518.8 308.8 517.5 307.4 516.4C306.0 515.2 304.0 514.0 302.7 512.9C301.4 511.8 300.1 510.7 299.4 509.9C298.8 509.0 298.7 508.4 298.7 507.8C298.7 507.1 299.0 506.5 299.4 505.9C299.9 505.3 300.8 504.7 301.3 504.0C301.9 503.3 302.0 502.6 302.7 501.9C303.4 501.2 304.6 500.6 305.5 499.6C306.4 498.7 307.6 497.5 308.3 496.4C309.0 495.3 309.4 494.1 309.7 492.9C310.0 491.7 310.0 490.6 310.2 489.4C310.4 488.2 310.8 487.1 311.1 485.9C311.5 484.8 311.9 483.6 312.3 482.4C312.7 481.3 313.1 480.0 313.5 478.9C313.8 477.9 314.2 476.6 314.4 476.2Z" fill="#d6d6d6" stroke="#333" stroke-width="0.6" stroke-linejoin="round"/>
<line x1="301.42" x2="327.38" y1="504.01" y2="504.01" stroke="#151515" stroke-width="1.2"/>
<path d="M366.2 479.4C366.4 480.1 366.9 482.3 367.4 483.7C368.0 485.0 369.0 486.2 369.7 487.4C370.4 488.7 371.2 489.9 371.7 491.2C372.2 492.4 372.7 493.7 372.9 494.9C373.1 496.2 372.8 497.4 372.9 498.6C373.1 499.9 373.1 501.1 373.7 502.4C374.3 503.6 375.5 505.0 376.7 506.1C377.8 507.3 379.8 508.3 380.7 509.4C381.6 510.4 382.0 511.4 382.2 512.4C382.3 513.4 382.3 514.3 381.7 515.4C381.1 516.4 379.9 517.5 378.7 518.6C377.4 519.8 375.4 521.1 374.2 522.4C372.9 523.6 372.0 524.9 371.2 526.1C370.4 527.4 369.8 528.4 369.2 529.9C368.6 531.3 368.1 533.2 367.7 534.8C367.3 536.5 366.9 538.3 366.7 539.8C366.4 541.4 366.4 544.3 366.2 544.3C366.0 544.3 366.0 541.4 365.7 539.8C365.5 538.3 365.1 536.5 364.7 534.8C364.3 533.2 363.8 531.3 363.2 529.9C362.6 528.4 362.0 527.4 361.2 526.1C360.4 524.9 359.5 523.6 358.2 522.4C357.0 521.1 355.0 519.8 353.7 518.6C352.5 517.5 351.3 516.4 350.7 515.4C350.1 514.3 350.1 513.4 350.2 512.4C350.4 511.4 350.8 510.4 351.7 509.4C352.6 508.3 354.6 507.3 355.7 506.1C356.9 505.0 358.1 503.6 358.7 502.4C359.3 501.1 359.3 499.9 359.5 498.6C359.6 497.4 359.3 496.2 359.5 494.9C359.7 493.7 360.2 492.4 360.7 491.2C361.2 489.9 362.0 488.7 362.7 487.4C363.4 486.2 364.4 485.0 365.0 483.7C365.5 482.3 366.0 480.1 366.2 479.4Z" fill="#d6d6d6" stroke="#333" stroke-width="0.6" stroke-linejoin="round"/>
<line x1="350.47" x2="381.93" y1="511.63" y2="511.63" stroke="#151515" stroke-width="1.2"/>
<path d="M417.8 486.2C418.0 486.8 418.5 488.7 419.0 489.9C419.6 491.2 420.6 492.4 421.3 493.7C422.0 494.9 422.8 496.2 423.3 497.4C423.8 498.6 424.0 499.9 424.3 501.1C424.5 502.4 424.3 503.6 424.8 504.9C425.3 506.1 426.3 507.4 427.3 508.6C428.3 509.9 429.8 511.1 430.8 512.4C431.8 513.6 432.8 515.1 433.3 516.1C433.8 517.2 433.9 517.8 433.8 518.6C433.7 519.4 433.6 520.1 432.8 521.1C432.0 522.2 430.3 523.6 429.0 524.9C427.8 526.1 426.3 527.4 425.3 528.6C424.2 529.9 423.5 531.1 422.8 532.3C422.0 533.6 421.4 534.6 420.8 536.1C420.2 537.5 419.5 539.2 419.0 541.1C418.5 543.0 418.2 547.3 417.8 547.3C417.4 547.3 417.1 543.0 416.6 541.1C416.1 539.2 415.4 537.5 414.8 536.1C414.2 534.6 413.6 533.6 412.8 532.3C412.1 531.1 411.4 529.9 410.3 528.6C409.3 527.4 407.8 526.1 406.6 524.9C405.3 523.6 403.6 522.2 402.8 521.1C402.0 520.1 401.9 519.4 401.8 518.6C401.7 517.8 401.8 517.2 402.3 516.1C402.8 515.1 403.8 513.6 404.8 512.4C405.8 511.1 407.3 509.9 408.3 508.6C409.3 507.4 410.3 506.1 410.8 504.9C411.3 503.6 411.1 502.4 411.3 501.1C411.6 499.9 411.8 498.6 412.3 497.4C412.8 496.2 413.6 494.9 414.3 493.7C415.0 492.4 416.0 491.2 416.6 489.9C417.1 488.7 417.6 486.8 417.8 486.2Z" fill="#d6d6d6" stroke="#333" stroke-width="0.6" stroke-linejoin="round"/>
<line x1="402.07" x2="433.53" y1="517.87" y2="517.87" stroke="#151515" stroke-width="1.2"/>
<line x1="289.0" x2="430.5" y1="502.29999999999995" y2="502.29999999999995" stroke="#808080" stroke-width="0.6"/>
<line x1="521.3" x2="521.3" y1="472.4" y2="553.7" stroke="#707070" stroke-width="0.8"/>
<path d="M545.2 482.9C545.3 483.5 545.5 485.0 545.7 486.2C545.9 487.3 546.0 488.7 546.4 489.9C546.9 491.2 547.4 492.5 548.2 493.7C549.0 494.8 550.2 495.9 551.4 496.9C552.7 497.9 554.4 499.0 555.7 499.9C556.9 500.8 558.3 501.7 558.9 502.4C559.6 503.1 559.7 503.5 559.7 504.1C559.7 504.8 559.7 505.3 558.9 506.1C558.2 507.0 556.6 508.3 555.2 509.4C553.8 510.4 552.0 511.3 550.7 512.4C549.4 513.5 548.0 514.9 547.2 516.1C546.4 517.4 546.3 518.6 545.9 519.9C545.6 521.1 545.4 523.6 545.2 523.6C545.0 523.6 544.8 521.1 544.5 519.9C544.1 518.6 544.0 517.4 543.2 516.1C542.4 514.9 541.0 513.5 539.7 512.4C538.4 511.3 536.6 510.4 535.2 509.4C533.8 508.3 532.2 507.0 531.5 506.1C530.7 505.3 530.7 504.8 530.7 504.1C530.7 503.5 530.8 503.1 531.5 502.4C532.1 501.7 533.5 500.8 534.7 499.9C536.0 499.0 537.7 497.9 539.0 496.9C540.2 495.9 541.4 494.8 542.2 493.7C543.0 492.5 543.5 491.2 544.0 489.9C544.4 488.7 544.5 487.3 544.7 486.2C544.9 485.0 545.1 483.5 545.2 482.9Z" fill="#d6d6d6" stroke="#333" stroke-width="0.6" stroke-linejoin="round"/>
<line x1="530.97" x2="559.43" y1="504.14" y2="504.14" stroke="#151515" stroke-width="1.2"/>
<path d="M592.7 486.9C592.8 487.6 593.1 489.8 593.4 491.2C593.8 492.5 594.1 493.7 594.7 494.9C595.3 496.2 596.2 497.4 597.2 498.6C598.2 499.9 599.4 501.1 600.7 502.4C601.9 503.6 603.7 505.1 604.7 506.1C605.7 507.2 606.3 507.9 606.7 508.6C607.1 509.4 607.2 509.9 607.2 510.6C607.1 511.3 607.2 512.0 606.4 512.9C605.7 513.8 604.1 515.0 602.7 516.1C601.3 517.2 599.5 518.3 598.2 519.4C596.9 520.4 595.7 521.2 594.9 522.4C594.2 523.5 593.9 524.9 593.7 526.1C593.4 527.4 593.5 528.4 593.4 529.9C593.4 531.3 593.5 533.4 593.4 534.8C593.4 536.3 593.4 537.3 593.3 538.6C593.2 539.8 592.9 542.3 592.7 542.3C592.5 542.3 592.2 539.8 592.1 538.6C592.0 537.3 592.0 536.3 592.0 534.8C591.9 533.4 592.0 531.3 592.0 529.9C591.9 528.4 592.0 527.4 591.7 526.1C591.5 524.9 591.2 523.5 590.5 522.4C589.7 521.2 588.5 520.4 587.2 519.4C585.9 518.3 584.1 517.2 582.7 516.1C581.3 515.0 579.7 513.8 579.0 512.9C578.2 512.0 578.3 511.3 578.2 510.6C578.2 509.9 578.3 509.4 578.7 508.6C579.1 507.9 579.7 507.2 580.7 506.1C581.7 505.1 583.5 503.6 584.7 502.4C586.0 501.1 587.2 499.9 588.2 498.6C589.2 497.4 590.1 496.2 590.7 494.9C591.3 493.7 591.6 492.5 592.0 491.2C592.3 489.8 592.6 487.6 592.7 486.9Z" fill="#d6d6d6" stroke="#333" stroke-width="0.6" stroke-linejoin="round"/>
<line x1="578.47" x2="606.93" y1="510.38" y2="510.38" stroke="#151515" stroke-width="1.2"/>
<path d="M639.5 489.9C639.6 490.5 639.9 492.4 640.2 493.7C640.6 494.9 640.9 496.2 641.5 497.4C642.1 498.6 642.9 499.6 644.0 500.6C645.1 501.7 646.8 502.6 648.2 503.6C649.7 504.7 651.5 505.8 652.5 506.9C653.4 507.9 653.7 509.0 654.0 509.9C654.2 510.8 654.2 511.5 654.0 512.4C653.7 513.2 653.2 513.8 652.5 514.9C651.7 515.9 650.5 517.4 649.5 518.6C648.5 519.9 647.5 521.1 646.5 522.4C645.4 523.6 644.1 524.9 643.2 526.1C642.4 527.4 641.7 528.6 641.2 529.9C640.8 531.1 640.8 532.3 640.6 533.6C640.5 534.8 640.5 536.1 640.4 537.3C640.3 538.6 640.2 539.6 640.0 541.1C639.9 542.5 639.7 546.1 639.5 546.1C639.3 546.1 639.1 542.5 639.0 541.1C638.8 539.6 638.7 538.6 638.6 537.3C638.5 536.1 638.5 534.8 638.4 533.6C638.2 532.3 638.2 531.1 637.8 529.9C637.3 528.6 636.6 527.4 635.8 526.1C634.9 524.9 633.6 523.6 632.5 522.4C631.5 521.1 630.5 519.9 629.5 518.6C628.5 517.4 627.3 515.9 626.5 514.9C625.8 513.8 625.3 513.2 625.0 512.4C624.8 511.5 624.8 510.8 625.0 509.9C625.3 509.0 625.6 507.9 626.5 506.9C627.5 505.8 629.3 504.7 630.8 503.6C632.2 502.6 633.9 501.7 635.0 500.6C636.1 499.6 636.9 498.6 637.5 497.4C638.1 496.2 638.4 494.9 638.8 493.7C639.1 492.4 639.4 490.5 639.5 489.9Z" fill="#d6d6d6" stroke="#333" stroke-width="0.6" stroke-linejoin="round"/>
<line x1="626.27" x2="652.73" y1="514.37" y2="514.37" stroke="#151515" stroke-width="1.2"/>
<line x1="521.5" x2="664.0" y1="502.29999999999995" y2="502.29999999999995" stroke="#808080" stroke-width="0.6"/>
<g style="filter:grayscale(1)"><text x="44.9" y="6.7" font-size="9.2" text-anchor="start" fill="#111" >Distractor trials</text><text x="44.9" y="17.9" font-size="9.2" text-anchor="start" fill="#111" >No-Distractor trials</text><text x="358.2" y="10.0" font-size="13.9" text-anchor="middle" fill="#111" >Burst rates by frequency and region</text><text x="14.8" y="50.4" font-size="18.8" text-anchor="start" fill="#111" >a</text><text x="22.8" y="472.4" font-size="18.5" text-anchor="start" fill="#111" >b</text><text x="48.7" y="167.0" font-size="9.2" text-anchor="middle" fill="#111" >0</text><text x="79.7" y="167.0" font-size="9.2" text-anchor="middle" fill="#111" >1</text><text x="110.1" y="167.0" font-size="9.2" text-anchor="middle" fill="#111" >2</text><text x="140.4" y="167.0" font-size="9.2" text-anchor="middle" fill="#111" >3</text><text x="169.5" y="167.0" font-size="9.2" text-anchor="middle" fill="#111" >4</text><text x="208.7" y="167.0" font-size="9.2" text-anchor="middle" fill="#111" >5.25</text><text x="31.7" y="95.5" font-size="9.0" text-anchor="end" fill="#111" >0.1</text><text x="31.7" y="128.2" font-size="9.0" text-anchor="end" fill="#111" >0.06</text><text x="31.7" y="160.8" font-size="9.0" text-anchor="end" fill="#111" >0.02</text><text x="49.5" y="70.7" font-size="8.8" text-anchor="start" fill="#111" textLength="20.8" lengthAdjust="spacingAndGlyphs">Cue 1</text><text x="205.3" y="70.7" font-size="8.8" text-anchor="start" fill="#111" textLength="22" lengthAdjust="spacingAndGlyphs">Cue 2</text><text x="132.2" y="60.0" font-size="11.5" text-anchor="middle" fill="#111" >8-12 Hz</text><text x="132.2" y="45.8" font-size="11.5" text-anchor="middle" fill="#111" >Occipital</text><text x="275.0" y="167.0" font-size="9.2" text-anchor="middle" fill="#111" >0</text><text x="306.0" y="167.0" font-size="9.2" text-anchor="middle" fill="#111" >1</text><text x="336.4" y="167.0" font-size="9.2" text-anchor="middle" fill="#111" >2</text><text x="366.7" y="167.0" font-size="9.2" text-anchor="middle" fill="#111" >3</text><text x="395.8" y="167.0" font-size="9.2" text-anchor="middle" fill="#111" >4</text><text x="435.0" y="167.0" font-size="9.2" text-anchor="middle" fill="#111" >5.25</text><text x="258.9" y="79.7" font-size="9.0" text-anchor="end" fill="#111" >0.14</text><text x="258.9" y="106.0" font-size="9.0" text-anchor="end" fill="#111" >0.1</text><text x="258.9" y="132.8" font-size="9.0" text-anchor="end" fill="#111" >0.06</text><text x="258.9" y="159.8" font-size="9.0" text-anchor="end" fill="#111" >0.02</text><text x="275.8" y="70.7" font-size="8.8" text-anchor="start" fill="#111" textLength="20.8" lengthAdjust="spacingAndGlyphs">Cue 1</text><text x="431.6" y="70.7" font-size="8.8" text-anchor="start" fill="#111" textLength="22" lengthAdjust="spacingAndGlyphs">Cue 2</text><text x="358.5" y="60.0" font-size="11.5" text-anchor="middle" fill="#111" >8-12 Hz</text><text x="358.5" y="45.8" font-size="11.5" text-anchor="middle" fill="#111" >Parietal</text><text x="501.7" y="167.0" font-size="9.2" text-anchor="middle" fill="#111" >0</text><text x="532.7" y="167.0" font-size="9.2" text-anchor="middle" fill="#111" >1</text><text x="563.1" y="167.0" font-size="9.2" text-anchor="middle" fill="#111" >2</text><text x="593.4" y="167.0" font-size="9.2" text-anchor="middle" fill="#111" >3</text><text x="622.5" y="167.0" font-size="9.2" text-anchor="middle" fill="#111" >4</text><text x="661.7" y="167.0" font-size="9.2" text-anchor="middle" fill="#111" >5.25</text><text x="484.1" y="79.6" font-size="9.0" text-anchor="end" fill="#111" >0.1</text><text x="484.1" y="99.9" font-size="9.0" text-anchor="end" fill="#111" >0.08</text><text x="484.1" y="120.2" font-size="9.0" text-anchor="end" fill="#111" >0.06</text><text x="484.1" y="140.6" font-size="9.0" text-anchor="end" fill="#111" >0.04</text><text x="484.1" y="161.2" font-size="9.0" text-anchor="end" fill="#111" >0.02</text><text x="502.5" y="70.7" font-size="8.8" text-anchor="start" fill="#111" textLength="20.8" lengthAdjust="spacingAndGlyphs">Cue 1</text><text x="658.3" y="70.7" font-size="8.8" text-anchor="start" fill="#111" textLength="22" lengthAdjust="spacingAndGlyphs">Cue 2</text><text x="585.2" y="60.0" font-size="11.5" text-anchor="middle" fill="#111" >8-12 Hz</text><text x="585.2" y="45.8" font-size="11.5" text-anchor="middle" fill="#111" >PFC</text><text x="48.7" y="292.5" font-size="9.2" text-anchor="middle" fill="#111" >0</text><text x="79.7" y="292.5" font-size="9.2" text-anchor="middle" fill="#111" >1</text><text x="110.1" y="292.5" font-size="9.2" text-anchor="middle" fill="#111" >2</text><text x="140.4" y="292.5" font-size="9.2" text-anchor="middle" fill="#111" >3</text><text x="169.5" y="292.5" font-size="9.2" text-anchor="middle" fill="#111" >4</text><text x="208.7" y="292.5" font-size="9.2" text-anchor="middle" fill="#111" >5.25</text><text x="31.7" y="203.7" font-size="9.0" text-anchor="end" fill="#111" >0.2</text><text x="31.7" y="245.2" font-size="9.0" text-anchor="end" fill="#111" >0.1</text><text x="31.7" y="285.9" font-size="9.0" text-anchor="end" fill="#111" >0</text><text x="49.5" y="195.7" font-size="8.8" text-anchor="start" fill="#111" textLength="20.8" lengthAdjust="spacingAndGlyphs">Cue 1</text><text x="205.3" y="195.7" font-size="8.8" text-anchor="start" fill="#111" textLength="22" lengthAdjust="spacingAndGlyphs">Cue 2</text><text x="132.2" y="185.0" font-size="11.5" text-anchor="middle" fill="#111" >12-18 HZ</text><text x="275.0" y="292.5" font-size="9.2" text-anchor="middle" fill="#111" >0</text><text x="306.0" y="292.5" font-size="9.2" text-anchor="middle" fill="#111" >1</text><text x="336.4" y="292.5" font-size="9.2" text-anchor="middle" fill="#111" >2</text><text x="366.7" y="292.5" font-size="9.2" text-anchor="middle" fill="#111" >3</text><text x="395.8" y="292.5" font-size="9.2" text-anchor="middle" fill="#111" >4</text><text x="435.0" y="292.5" font-size="9.2" text-anchor="middle" fill="#111" >5.25</text><text x="258.9" y="216.2" font-size="9.0" text-anchor="end" fill="#111" >0.2</text><text x="258.9" y="250.8" font-size="9.0" text-anchor="end" fill="#111" >0.1</text><text x="258.9" y="285.8" font-size="9.0" text-anchor="end" fill="#111" >0</text><text x="275.8" y="195.7" font-size="8.8" text-anchor="start" fill="#111" textLength="20.8" lengthAdjust="spacingAndGlyphs">Cue 1</text><text x="431.6" y="195.7" font-size="8.8" text-anchor="start" fill="#111" textLength="22" lengthAdjust="spacingAndGlyphs">Cue 2</text><text x="358.5" y="185.0" font-size="11.5" text-anchor="middle" fill="#111" >12-18 HZ</text><text x="501.7" y="292.5" font-size="9.2" text-anchor="middle" fill="#111" >0</text><text x="532.7" y="292.5" font-size="9.2" text-anchor="middle" fill="#111" >1</text><text x="563.1" y="292.5" font-size="9.2" text-anchor="middle" fill="#111" >2</text><text x="593.4" y="292.5" font-size="9.2" text-anchor="middle" fill="#111" >3</text><text x="622.5" y="292.5" font-size="9.2" text-anchor="middle" fill="#111" >4</text><text x="661.7" y="292.5" font-size="9.2" text-anchor="middle" fill="#111" >5.25</text><text x="484.1" y="224.9" font-size="9.0" text-anchor="end" fill="#111" >0.15</text><text x="484.1" y="254.5" font-size="9.0" text-anchor="end" fill="#111" >0.1</text><text x="484.1" y="288.6" font-size="9.0" text-anchor="end" fill="#111" >0.05</text><text x="502.5" y="195.7" font-size="8.8" text-anchor="start" fill="#111" textLength="20.8" lengthAdjust="spacingAndGlyphs">Cue 1</text><text x="658.3" y="195.7" font-size="8.8" text-anchor="start" fill="#111" textLength="22" lengthAdjust="spacingAndGlyphs">Cue 2</text><text x="585.2" y="185.0" font-size="11.5" text-anchor="middle" fill="#111" >12-18 HZ</text><text x="48.7" y="417.7" font-size="9.2" text-anchor="middle" fill="#111" >0</text><text x="79.7" y="417.7" font-size="9.2" text-anchor="middle" fill="#111" >1</text><text x="110.1" y="417.7" font-size="9.2" text-anchor="middle" fill="#111" >2</text><text x="140.4" y="417.7" font-size="9.2" text-anchor="middle" fill="#111" >3</text><text x="169.5" y="417.7" font-size="9.2" text-anchor="middle" fill="#111" >4</text><text x="208.7" y="417.7" font-size="9.2" text-anchor="middle" fill="#111" >5.25</text><text x="31.7" y="332.2" font-size="9.0" text-anchor="end" fill="#111" >0.22</text><text x="31.7" y="371.8" font-size="9.0" text-anchor="end" fill="#111" >0.14</text><text x="31.7" y="411.4" font-size="9.0" text-anchor="end" fill="#111" >0.06</text><text x="49.5" y="321.7" font-size="8.8" text-anchor="start" fill="#111" textLength="20.8" lengthAdjust="spacingAndGlyphs">Cue 1</text><text x="205.3" y="321.7" font-size="8.8" text-anchor="start" fill="#111" textLength="22" lengthAdjust="spacingAndGlyphs">Cue 2</text><text x="132.2" y="311.0" font-size="11.5" text-anchor="middle" fill="#111" >18-26 HZ</text><text x="275.0" y="417.7" font-size="9.2" text-anchor="middle" fill="#111" >0</text><text x="306.0" y="417.7" font-size="9.2" text-anchor="middle" fill="#111" >1</text><text x="336.4" y="417.7" font-size="9.2" text-anchor="middle" fill="#111" >2</text><text x="366.7" y="417.7" font-size="9.2" text-anchor="middle" fill="#111" >3</text><text x="395.8" y="417.7" font-size="9.2" text-anchor="middle" fill="#111" >4</text><text x="435.0" y="417.7" font-size="9.2" text-anchor="middle" fill="#111" >5.25</text><text x="258.9" y="356.4" font-size="9.0" text-anchor="end" fill="#111" >0.2</text><text x="258.9" y="383.9" font-size="9.0" text-anchor="end" fill="#111" >0.1</text><text x="258.9" y="411.2" font-size="9.0" text-anchor="end" fill="#111" >0</text><text x="275.8" y="321.7" font-size="8.8" text-anchor="start" fill="#111" textLength="20.8" lengthAdjust="spacingAndGlyphs">Cue 1</text><text x="431.6" y="321.7" font-size="8.8" text-anchor="start" fill="#111" textLength="22" lengthAdjust="spacingAndGlyphs">Cue 2</text><text x="358.5" y="311.0" font-size="11.5" text-anchor="middle" fill="#111" >18-26 HZ</text><text x="501.7" y="417.7" font-size="9.2" text-anchor="middle" fill="#111" >0</text><text x="532.7" y="417.7" font-size="9.2" text-anchor="middle" fill="#111" >1</text><text x="563.1" y="417.7" font-size="9.2" text-anchor="middle" fill="#111" >2</text><text x="593.4" y="417.7" font-size="9.2" text-anchor="middle" fill="#111" >3</text><text x="622.5" y="417.7" font-size="9.2" text-anchor="middle" fill="#111" >4</text><text x="661.7" y="417.7" font-size="9.2" text-anchor="middle" fill="#111" >5.25</text><text x="484.1" y="345.0" font-size="9.0" text-anchor="end" fill="#111" >0.25</text><text x="484.1" y="364.4" font-size="9.0" text-anchor="end" fill="#111" >0.2</text><text x="484.1" y="383.6" font-size="9.0" text-anchor="end" fill="#111" >0.15</text><text x="484.1" y="403.2" font-size="9.0" text-anchor="end" fill="#111" >0.1</text><text x="502.5" y="321.7" font-size="8.8" text-anchor="start" fill="#111" textLength="20.8" lengthAdjust="spacingAndGlyphs">Cue 1</text><text x="658.3" y="321.7" font-size="8.8" text-anchor="start" fill="#111" textLength="22" lengthAdjust="spacingAndGlyphs">Cue 2</text><text x="585.2" y="311.0" font-size="11.5" text-anchor="middle" fill="#111" >18-26 HZ</text><text transform="translate(9.0 232.6) rotate(-90)" font-size="11.4" text-anchor="middle" fill="#111">Burst rate (1/trial)</text><text x="370.5" y="426.4" font-size="11.4" text-anchor="middle" fill="#111" >Time (s)</text><text x="365.7" y="450.0" font-size="13.7" text-anchor="middle" fill="#111" >Burst gradient</text><text x="149.5" y="466.7" font-size="11.4" text-anchor="middle" fill="#111" >Occipital</text><text x="97.9" y="562.5" font-size="9.3" text-anchor="middle" fill="#111" >Alpha</text><text x="148.7" y="555.8" font-size="9.3" text-anchor="middle" fill="#111" >Low</text><text x="149.3" y="567.6" font-size="9.3" text-anchor="middle" fill="#111" >Beta</text><text x="200.3" y="555.8" font-size="9.3" text-anchor="middle" fill="#111" >High</text><text x="200.9" y="567.6" font-size="9.3" text-anchor="middle" fill="#111" >Beta</text><text x="366.0" y="466.7" font-size="11.4" text-anchor="middle" fill="#111" >Parietal</text><text x="314.4" y="562.5" font-size="9.3" text-anchor="middle" fill="#111" >Alpha</text><text x="365.6" y="555.8" font-size="9.3" text-anchor="middle" fill="#111" >Low</text><text x="366.2" y="567.6" font-size="9.3" text-anchor="middle" fill="#111" >Beta</text><text x="417.2" y="555.8" font-size="9.3" text-anchor="middle" fill="#111" >High</text><text x="417.8" y="567.6" font-size="9.3" text-anchor="middle" fill="#111" >Beta</text><text x="592.0" y="466.7" font-size="11.4" text-anchor="middle" fill="#111" >PFC</text><text x="545.2" y="562.5" font-size="9.3" text-anchor="middle" fill="#111" >Alpha</text><text x="592.1" y="555.8" font-size="9.3" text-anchor="middle" fill="#111" >Low</text><text x="592.7" y="567.6" font-size="9.3" text-anchor="middle" fill="#111" >Beta</text><text x="638.9" y="555.8" font-size="9.3" text-anchor="middle" fill="#111" >High</text><text x="639.5" y="567.6" font-size="9.3" text-anchor="middle" fill="#111" >Beta</text><text x="66.6" y="476.3" font-size="9.2" text-anchor="end" fill="#111" >0.06</text><text x="66.6" y="505.7" font-size="9.2" text-anchor="end" fill="#111" >0</text><text x="66.6" y="558.7" font-size="9.2" text-anchor="end" fill="#111" >-0.1</text><text transform="translate(55.2 512.5) rotate(-90)" font-size="11.2" text-anchor="middle" fill="#111">Δ Bursts / s</text></g>
</svg></body></html>
